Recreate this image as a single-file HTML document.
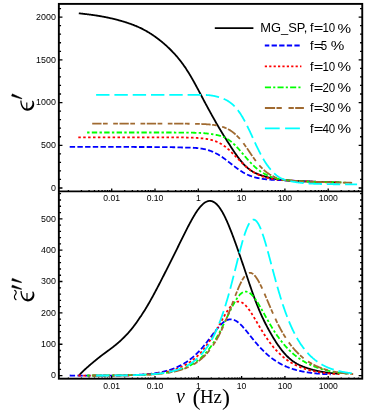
<!DOCTYPE html><html><head><meta charset="utf-8"><style>html,body{margin:0;padding:0;background:#fff}svg{display:block;will-change:transform;transform:translateZ(0)}</style></head><body><svg width="374" height="412" viewBox="0 0 374 412">
<rect width="374" height="412" fill="#fff"/>
<g fill="none" stroke-linecap="butt" stroke-linejoin="round">
<path d="M78.8 13.27 L79.3 13.33 L79.8 13.40 L80.3 13.46 L80.8 13.52 L81.3 13.58 L81.8 13.64 L82.3 13.70 L82.8 13.76 L83.3 13.81 L83.8 13.87 L84.3 13.93 L84.8 13.99 L85.3 14.05 L85.8 14.11 L86.3 14.17 L86.8 14.23 L87.3 14.29 L87.8 14.35 L88.3 14.41 L88.8 14.48 L89.3 14.54 L89.8 14.60 L90.3 14.67 L90.8 14.73 L91.3 14.80 L91.8 14.86 L92.3 14.93 L92.8 15.00 L93.3 15.07 L93.8 15.14 L94.3 15.21 L94.8 15.28 L95.3 15.36 L95.8 15.43 L96.3 15.51 L96.8 15.59 L97.3 15.67 L97.8 15.75 L98.3 15.83 L98.8 15.91 L99.3 16.00 L99.8 16.08 L100.3 16.17 L100.8 16.26 L101.3 16.35 L101.8 16.44 L102.3 16.53 L102.8 16.62 L103.3 16.71 L103.8 16.81 L104.3 16.90 L104.8 17.00 L105.3 17.10 L105.8 17.20 L106.3 17.30 L106.8 17.40 L107.3 17.50 L107.8 17.61 L108.3 17.72 L108.8 17.82 L109.3 17.93 L109.8 18.04 L110.3 18.15 L110.8 18.27 L111.3 18.38 L111.8 18.49 L112.3 18.61 L112.8 18.73 L113.3 18.85 L113.8 18.97 L114.3 19.09 L114.8 19.22 L115.3 19.34 L115.8 19.47 L116.3 19.60 L116.8 19.73 L117.3 19.86 L117.8 19.99 L118.3 20.13 L118.8 20.26 L119.3 20.40 L119.8 20.54 L120.3 20.68 L120.8 20.82 L121.3 20.96 L121.8 21.11 L122.3 21.25 L122.8 21.40 L123.3 21.55 L123.8 21.70 L124.3 21.86 L124.8 22.01 L125.3 22.17 L125.8 22.32 L126.3 22.48 L126.8 22.65 L127.3 22.81 L127.8 22.98 L128.3 23.14 L128.8 23.31 L129.3 23.49 L129.8 23.66 L130.3 23.84 L130.8 24.02 L131.3 24.20 L131.8 24.38 L132.3 24.57 L132.8 24.75 L133.3 24.95 L133.8 25.14 L134.3 25.34 L134.8 25.54 L135.3 25.74 L135.8 25.95 L136.3 26.15 L136.8 26.37 L137.3 26.58 L137.8 26.80 L138.3 27.02 L138.8 27.25 L139.3 27.47 L139.8 27.71 L140.3 27.94 L140.8 28.18 L141.3 28.42 L141.8 28.67 L142.3 28.92 L142.8 29.17 L143.3 29.43 L143.8 29.69 L144.3 29.96 L144.8 30.23 L145.3 30.50 L145.8 30.78 L146.3 31.06 L146.8 31.34 L147.3 31.63 L147.8 31.93 L148.3 32.23 L148.8 32.53 L149.3 32.83 L149.8 33.14 L150.3 33.46 L150.8 33.78 L151.3 34.10 L151.8 34.43 L152.3 34.76 L152.8 35.09 L153.3 35.43 L153.8 35.77 L154.3 36.12 L154.8 36.47 L155.3 36.83 L155.8 37.19 L156.3 37.55 L156.8 37.92 L157.3 38.29 L157.8 38.67 L158.3 39.05 L158.8 39.43 L159.3 39.82 L159.8 40.21 L160.3 40.61 L160.8 41.01 L161.3 41.41 L161.8 41.82 L162.3 42.23 L162.8 42.65 L163.3 43.07 L163.8 43.50 L164.3 43.93 L164.8 44.37 L165.3 44.81 L165.8 45.25 L166.3 45.70 L166.8 46.16 L167.3 46.62 L167.8 47.09 L168.3 47.56 L168.8 48.03 L169.3 48.51 L169.8 49.00 L170.3 49.49 L170.8 49.99 L171.3 50.49 L171.8 51.00 L172.3 51.52 L172.8 52.04 L173.3 52.57 L173.8 53.10 L174.3 53.64 L174.8 54.19 L175.3 54.75 L175.8 55.31 L176.3 55.88 L176.8 56.45 L177.3 57.04 L177.8 57.63 L178.3 58.23 L178.8 58.84 L179.3 59.46 L179.8 60.08 L180.3 60.72 L180.8 61.36 L181.3 62.02 L181.8 62.68 L182.3 63.36 L182.8 64.04 L183.3 64.74 L183.8 65.44 L184.3 66.16 L184.8 66.88 L185.3 67.62 L185.8 68.36 L186.3 69.12 L186.8 69.89 L187.3 70.66 L187.8 71.45 L188.3 72.24 L188.8 73.05 L189.3 73.87 L189.8 74.70 L190.3 75.53 L190.8 76.38 L191.3 77.24 L191.8 78.10 L192.3 78.97 L192.8 79.86 L193.3 80.74 L193.8 81.64 L194.3 82.54 L194.8 83.45 L195.3 84.36 L195.8 85.28 L196.3 86.20 L196.8 87.13 L197.3 88.06 L197.8 88.99 L198.3 89.92 L198.8 90.86 L199.3 91.80 L199.8 92.75 L200.3 93.69 L200.8 94.64 L201.3 95.58 L201.8 96.53 L202.3 97.48 L202.8 98.43 L203.3 99.38 L203.8 100.32 L204.3 101.27 L204.8 102.22 L205.3 103.15 L205.8 104.08 L206.3 105.01 L206.8 105.93 L207.3 106.86 L207.8 107.78 L208.3 108.70 L208.8 109.62 L209.3 110.53 L209.8 111.44 L210.3 112.36 L210.8 113.26 L211.3 114.17 L211.8 115.07 L212.3 115.98 L212.8 116.87 L213.3 117.77 L213.8 118.66 L214.3 119.55 L214.8 120.43 L215.3 121.31 L215.8 122.19 L216.3 123.07 L216.8 123.94 L217.3 124.80 L217.8 125.67 L218.3 126.52 L218.8 127.38 L219.3 128.23 L219.8 129.07 L220.3 129.91 L220.8 130.75 L221.3 131.58 L221.8 132.40 L222.3 133.23 L222.8 134.04 L223.3 134.85 L223.8 135.66 L224.3 136.46 L224.8 137.26 L225.3 138.06 L225.8 138.85 L226.3 139.64 L226.8 140.43 L227.3 141.21 L227.8 142.00 L228.3 142.78 L228.8 143.56 L229.3 144.33 L229.8 145.11 L230.3 145.88 L230.8 146.66 L231.3 147.42 L231.8 148.19 L232.3 148.95 L232.8 149.71 L233.3 150.46 L233.8 151.21 L234.3 151.95 L234.8 152.68 L235.3 153.41 L235.8 154.13 L236.3 154.84 L236.8 155.55 L237.3 156.24 L237.8 156.93 L238.3 157.61 L238.8 158.27 L239.3 158.93 L239.8 159.57 L240.3 160.21 L240.8 160.83 L241.3 161.43 L241.8 162.03 L242.3 162.61 L242.8 163.18 L243.3 163.74 L243.8 164.28 L244.3 164.81 L244.8 165.32 L245.3 165.82 L245.8 166.30 L246.3 166.77 L246.8 167.23 L247.3 167.67 L247.8 168.10 L248.3 168.51 L248.8 168.91 L249.3 169.30 L249.8 169.67 L250.3 170.03 L250.8 170.38 L251.3 170.71 L251.8 171.04 L252.3 171.35 L252.8 171.65 L253.3 171.94 L253.8 172.21 L254.3 172.48 L254.8 172.73 L255.3 172.98 L255.8 173.21 L256.3 173.44 L256.8 173.66 L257.3 173.87 L257.8 174.08 L258.3 174.28 L258.8 174.48 L259.3 174.67 L259.8 174.85 L260.3 175.04 L260.8 175.21 L261.3 175.39 L261.8 175.56 L262.3 175.72 L262.8 175.88 L263.3 176.04 L263.8 176.20 L264.3 176.35 L264.8 176.49 L265.3 176.64 L265.8 176.78 L266.3 176.92 L266.8 177.05 L267.3 177.18 L267.8 177.31 L268.3 177.44 L268.8 177.56 L269.3 177.68 L269.8 177.80 L270.3 177.91 L270.8 178.02 L271.3 178.13 L271.8 178.23 L272.3 178.34 L272.8 178.43 L273.3 178.53 L273.8 178.63 L274.3 178.72 L274.8 178.81 L275.3 178.90 L275.8 178.99 L276.3 179.08 L276.8 179.16 L277.3 179.24 L277.8 179.32 L278.3 179.40 L278.8 179.48 L279.3 179.55 L279.8 179.63 L280.3 179.70 L280.8 179.76 L281.3 179.83 L281.8 179.89 L282.3 179.96 L282.8 180.02 L283.3 180.07 L283.8 180.13 L284.3 180.18 L284.8 180.23 L285.3 180.28 L285.8 180.32 L286.3 180.36 L286.8 180.40 L287.3 180.44 L287.8 180.48 L288.3 180.51 L288.8 180.55 L289.3 180.58 L289.8 180.61 L290.3 180.64 L290.8 180.67 L291.3 180.70 L291.8 180.73 L292.3 180.76 L292.8 180.79 L293.3 180.81 L293.8 180.84 L294.3 180.86 L294.8 180.89 L295.3 180.91 L295.8 180.93 L296.3 180.96 L296.8 180.98 L297.3 181.00 L297.8 181.02 L298.3 181.05 L298.8 181.07 L299.3 181.09 L299.8 181.11 L300.3 181.13 L300.8 181.15 L301.3 181.17 L301.8 181.19 L302.3 181.21 L302.8 181.23 L303.3 181.25 L303.8 181.27 L304.3 181.29 L304.8 181.31 L305.3 181.33 L305.8 181.35 L306.3 181.37 L306.8 181.39 L307.3 181.41 L307.8 181.43 L308.3 181.45 L308.8 181.47 L309.3 181.49 L309.8 181.51 L310.3 181.54 L310.8 181.56 L311.3 181.58 L311.8 181.60 L312.3 181.62 L312.8 181.64 L313.3 181.66 L313.8 181.68 L314.3 181.70 L314.8 181.72 L315.3 181.74 L315.8 181.76 L316.3 181.78 L316.8 181.80 L317.3 181.82 L317.8 181.84 L318.3 181.86 L318.8 181.88 L319.3 181.90 L319.8 181.91 L320.3 181.93 L320.8 181.95 L321.3 181.97 L321.8 181.99 L322.3 182.00 L322.8 182.02 L323.3 182.04 L323.8 182.05 L324.3 182.07 L324.8 182.08 L325.3 182.10 L325.8 182.11 L326.3 182.13 L326.8 182.14 L327.3 182.16 L327.8 182.17 L328.3 182.18 L328.8 182.20 L329.3 182.21 L329.8 182.22 L330.3 182.24 L330.8 182.25 L331.3 182.26 L331.8 182.28 L332.3 182.29 L332.8 182.30 L333.3 182.31 L333.8 182.33 L334.3 182.34 L334.8 182.35 L335.3 182.37 L335.8 182.38 L336.3 182.40 L336.8 182.41 L337.3 182.43 L337.8 182.44 L338.3 182.46 L338.8 182.47 L339.3 182.49" stroke="#000" stroke-width="1.8"/>
<path d="M69.7 146.95 L70.2 146.95 L70.7 146.95 L71.2 146.95 L71.7 146.95 L72.2 146.95 L72.7 146.95 L73.2 146.95 L73.7 146.95 L74.2 146.95 L74.7 146.95 L75.2 146.95 L75.7 146.95 L76.2 146.95 L76.7 146.95 L77.2 146.95 L77.7 146.95 L78.2 146.95 L78.7 146.95 L79.2 146.95 L79.7 146.95 L80.2 146.95 L80.7 146.95 L81.2 146.95 L81.7 146.95 L82.2 146.95 L82.7 146.95 L83.2 146.95 L83.7 146.95 L84.2 146.95 L84.7 146.95 L85.2 146.95 L85.7 146.95 L86.2 146.95 L86.7 146.95 L87.2 146.95 L87.7 146.95 L88.2 146.95 L88.7 146.95 L89.2 146.95 L89.7 146.95 L90.2 146.95 L90.7 146.95 L91.2 146.95 L91.7 146.95 L92.2 146.95 L92.7 146.95 L93.2 146.95 L93.7 146.95 L94.2 146.95 L94.7 146.95 L95.2 146.95 L95.7 146.95 L96.2 146.95 L96.7 146.95 L97.2 146.95 L97.7 146.95 L98.2 146.95 L98.7 146.95 L99.2 146.95 L99.7 146.95 L100.2 146.95 L100.7 146.95 L101.2 146.95 L101.7 146.95 L102.2 146.95 L102.7 146.95 L103.2 146.95 L103.7 146.95 L104.2 146.95 L104.7 146.95 L105.2 146.95 L105.7 146.95 L106.2 146.95 L106.7 146.95 L107.2 146.95 L107.7 146.95 L108.2 146.95 L108.7 146.95 L109.2 146.95 L109.7 146.95 L110.2 146.96 L110.7 146.96 L111.2 146.96 L111.7 146.96 L112.2 146.96 L112.7 146.96 L113.2 146.96 L113.7 146.96 L114.2 146.96 L114.7 146.96 L115.2 146.96 L115.7 146.96 L116.2 146.96 L116.7 146.96 L117.2 146.96 L117.7 146.96 L118.2 146.96 L118.7 146.96 L119.2 146.96 L119.7 146.96 L120.2 146.96 L120.7 146.96 L121.2 146.96 L121.7 146.96 L122.2 146.96 L122.7 146.96 L123.2 146.96 L123.7 146.96 L124.2 146.96 L124.7 146.96 L125.2 146.96 L125.7 146.96 L126.2 146.97 L126.7 146.97 L127.2 146.97 L127.7 146.97 L128.2 146.97 L128.7 146.97 L129.2 146.97 L129.7 146.97 L130.2 146.97 L130.7 146.97 L131.2 146.97 L131.7 146.97 L132.2 146.97 L132.7 146.97 L133.2 146.97 L133.7 146.97 L134.2 146.97 L134.7 146.98 L135.2 146.98 L135.7 146.98 L136.2 146.98 L136.7 146.98 L137.2 146.98 L137.7 146.98 L138.2 146.98 L138.7 146.98 L139.2 146.98 L139.7 146.98 L140.2 146.99 L140.7 146.99 L141.2 146.99 L141.7 146.99 L142.2 146.99 L142.7 146.99 L143.2 146.99 L143.7 146.99 L144.2 146.99 L144.7 147.00 L145.2 147.00 L145.7 147.00 L146.2 147.00 L146.7 147.00 L147.2 147.00 L147.7 147.01 L148.2 147.01 L148.7 147.01 L149.2 147.01 L149.7 147.01 L150.2 147.01 L150.7 147.02 L151.2 147.02 L151.7 147.02 L152.2 147.02 L152.7 147.03 L153.2 147.03 L153.7 147.03 L154.2 147.03 L154.7 147.03 L155.2 147.04 L155.7 147.04 L156.2 147.04 L156.7 147.05 L157.2 147.05 L157.7 147.05 L158.2 147.06 L158.7 147.06 L159.2 147.06 L159.7 147.07 L160.2 147.07 L160.7 147.07 L161.2 147.08 L161.7 147.08 L162.2 147.09 L162.7 147.09 L163.2 147.10 L163.7 147.10 L164.2 147.11 L164.7 147.11 L165.2 147.12 L165.7 147.12 L166.2 147.13 L166.7 147.13 L167.2 147.14 L167.7 147.15 L168.2 147.15 L168.7 147.16 L169.2 147.17 L169.7 147.17 L170.2 147.18 L170.7 147.19 L171.2 147.20 L171.7 147.21 L172.2 147.22 L172.7 147.23 L173.2 147.24 L173.7 147.25 L174.2 147.26 L174.7 147.27 L175.2 147.28 L175.7 147.29 L176.2 147.30 L176.7 147.32 L177.2 147.33 L177.7 147.34 L178.2 147.36 L178.7 147.37 L179.2 147.39 L179.7 147.40 L180.2 147.42 L180.7 147.44 L181.2 147.46 L181.7 147.48 L182.2 147.50 L182.7 147.52 L183.2 147.54 L183.7 147.56 L184.2 147.58 L184.7 147.61 L185.2 147.62 L185.7 147.62 L186.2 147.62 L186.7 147.62 L187.2 147.62 L187.7 147.62 L188.2 147.63 L188.7 147.63 L189.2 147.64 L189.7 147.65 L190.2 147.66 L190.7 147.67 L191.2 147.69 L191.7 147.71 L192.2 147.73 L192.7 147.75 L193.2 147.77 L193.7 147.80 L194.2 147.83 L194.7 147.86 L195.2 147.90 L195.7 147.93 L196.2 147.98 L196.7 148.02 L197.2 148.07 L197.7 148.12 L198.2 148.17 L198.7 148.23 L199.2 148.29 L199.7 148.35 L200.2 148.42 L200.7 148.49 L201.2 148.57 L201.7 148.65 L202.2 148.73 L202.7 148.82 L203.2 148.92 L203.7 149.02 L204.2 149.12 L204.7 149.23 L205.2 149.34 L205.7 149.46 L206.2 149.59 L206.7 149.72 L207.2 149.86 L207.7 150.00 L208.2 150.15 L208.7 150.30 L209.2 150.46 L209.7 150.63 L210.2 150.81 L210.7 150.99 L211.2 151.17 L211.7 151.37 L212.2 151.57 L212.7 151.78 L213.2 151.99 L213.7 152.22 L214.2 152.45 L214.7 152.68 L215.2 152.93 L215.7 153.18 L216.2 153.44 L216.7 153.71 L217.2 153.98 L217.7 154.26 L218.2 154.55 L218.7 154.84 L219.2 155.15 L219.7 155.46 L220.2 155.77 L220.7 156.10 L221.2 156.43 L221.7 156.76 L222.2 157.10 L222.7 157.45 L223.2 157.80 L223.7 158.16 L224.2 158.52 L224.7 158.89 L225.2 159.26 L225.7 159.64 L226.2 160.02 L226.7 160.40 L227.2 160.79 L227.7 161.17 L228.2 161.56 L228.7 161.96 L229.2 162.35 L229.7 162.74 L230.2 163.14 L230.7 163.53 L231.2 163.93 L231.7 164.32 L232.2 164.71 L232.7 165.10 L233.2 165.49 L233.7 165.87 L234.2 166.26 L234.7 166.64 L235.2 167.01 L235.7 167.38 L236.2 167.75 L236.7 168.11 L237.2 168.46 L237.7 168.81 L238.2 169.16 L238.7 169.50 L239.2 169.85 L239.7 170.19 L240.2 170.52 L240.7 170.86 L241.2 171.19 L241.7 171.51 L242.2 171.83 L242.7 172.14 L243.2 172.44 L243.7 172.74 L244.2 173.03 L244.7 173.31 L245.2 173.57 L245.7 173.83 L246.2 174.08 L246.7 174.32 L247.2 174.56 L247.7 174.78 L248.2 175.00 L248.7 175.21 L249.2 175.42 L249.7 175.62 L250.2 175.81 L250.7 175.99 L251.2 176.17 L251.7 176.34 L252.2 176.51 L252.7 176.67 L253.2 176.82 L253.7 176.97 L254.2 177.12 L254.7 177.26 L255.2 177.39 L255.7 177.52 L256.2 177.65 L256.7 177.77 L257.2 177.89 L257.7 178.00 L258.2 178.11 L258.7 178.22 L259.2 178.32 L259.7 178.41 L260.2 178.51 L260.7 178.59 L261.2 178.67 L261.7 178.75 L262.2 178.82 L262.7 178.89 L263.2 178.96 L263.7 179.03 L264.2 179.09 L264.7 179.15 L265.2 179.20 L265.7 179.26 L266.2 179.31 L266.7 179.36 L267.2 179.41 L267.7 179.46 L268.2 179.50 L268.7 179.55 L269.2 179.59 L269.7 179.63 L270.2 179.67 L270.7 179.70 L271.2 179.74 L271.7 179.77 L272.2 179.80 L272.7 179.83 L273.2 179.86 L273.7 179.89 L274.2 179.91 L274.7 179.94 L275.2 179.96 L275.7 179.98 L276.2 180.00 L276.7 180.02 L277.2 180.03 L277.7 180.05 L278.2 180.07 L278.7 180.09 L279.2 180.11 L279.7 180.13 L280.2 180.14 L280.7 180.16 L281.2 180.18 L281.7 180.20 L282.2 180.22 L282.7 180.23 L283.2 180.25 L283.7 180.27 L284.2 180.29 L284.7 180.31 L285.2 180.33 L285.7 180.35 L286.2 180.37 L286.7 180.40 L287.2 180.42 L287.7 180.44 L288.2 180.46 L288.7 180.49 L289.2 180.51 L289.7 180.53 L290.2 180.56 L290.7 180.58 L291.2 180.61 L291.7 180.63 L292.2 180.66 L292.7 180.69 L293.2 180.71 L293.7 180.74 L294.2 180.77 L294.7 180.80 L295.2 180.83 L295.7 180.86 L296.2 180.89 L296.7 180.92 L297.2 180.95 L297.7 180.98 L298.2 181.01 L298.7 181.04 L299.2 181.07 L299.7 181.10 L300.2 181.13 L300.7 181.16 L301.2 181.19 L301.7 181.22 L302.2 181.25 L302.7 181.28 L303.2 181.31 L303.7 181.34 L304.2 181.37 L304.7 181.40 L305.2 181.42 L305.7 181.45 L306.2 181.48 L306.7 181.51 L307.2 181.53 L307.7 181.56 L308.2 181.58 L308.7 181.61 L309.2 181.63 L309.7 181.66 L310.2 181.68 L310.7 181.70 L311.2 181.73 L311.7 181.75 L312.2 181.77 L312.7 181.79 L313.2 181.81 L313.7 181.83 L314.2 181.84 L314.7 181.86 L315.2 181.88 L315.7 181.89 L316.2 181.91 L316.7 181.93 L317.2 181.94 L317.7 181.95 L318.2 181.97 L318.7 181.98 L319.2 181.99 L319.7 182.00 L320.2 182.02 L320.7 182.03 L321.2 182.04 L321.7 182.05 L322.2 182.06 L322.7 182.07 L323.2 182.08 L323.7 182.08 L324.2 182.09 L324.7 182.10 L325.2 182.11 L325.7 182.11 L326.2 182.12 L326.7 182.13 L327.2 182.13 L327.7 182.14 L328.2 182.14 L328.7 182.15 L329.2 182.15 L329.7 182.16 L330.2 182.16 L330.7 182.17" stroke="#0000ff" stroke-width="1.8" stroke-dasharray="5.4 2.3"/>
<path d="M78.3 137.31 L78.8 137.31 L79.3 137.31 L79.8 137.31 L80.3 137.31 L80.8 137.31 L81.3 137.31 L81.8 137.31 L82.3 137.31 L82.8 137.31 L83.3 137.31 L83.8 137.31 L84.3 137.31 L84.8 137.31 L85.3 137.31 L85.8 137.31 L86.3 137.31 L86.8 137.31 L87.3 137.31 L87.8 137.31 L88.3 137.31 L88.8 137.31 L89.3 137.31 L89.8 137.31 L90.3 137.31 L90.8 137.31 L91.3 137.31 L91.8 137.31 L92.3 137.31 L92.8 137.31 L93.3 137.31 L93.8 137.31 L94.3 137.31 L94.8 137.31 L95.3 137.31 L95.8 137.31 L96.3 137.31 L96.8 137.31 L97.3 137.31 L97.8 137.31 L98.3 137.31 L98.8 137.31 L99.3 137.31 L99.8 137.31 L100.3 137.31 L100.8 137.31 L101.3 137.31 L101.8 137.31 L102.3 137.31 L102.8 137.31 L103.3 137.31 L103.8 137.31 L104.3 137.31 L104.8 137.31 L105.3 137.31 L105.8 137.31 L106.3 137.31 L106.8 137.31 L107.3 137.31 L107.8 137.31 L108.3 137.31 L108.8 137.31 L109.3 137.31 L109.8 137.31 L110.3 137.31 L110.8 137.31 L111.3 137.31 L111.8 137.31 L112.3 137.31 L112.8 137.31 L113.3 137.31 L113.8 137.31 L114.3 137.31 L114.8 137.31 L115.3 137.31 L115.8 137.31 L116.3 137.31 L116.8 137.31 L117.3 137.31 L117.8 137.31 L118.3 137.31 L118.8 137.31 L119.3 137.31 L119.8 137.31 L120.3 137.31 L120.8 137.31 L121.3 137.31 L121.8 137.31 L122.3 137.31 L122.8 137.31 L123.3 137.31 L123.8 137.31 L124.3 137.31 L124.8 137.31 L125.3 137.31 L125.8 137.31 L126.3 137.31 L126.8 137.31 L127.3 137.31 L127.8 137.31 L128.3 137.31 L128.8 137.31 L129.3 137.31 L129.8 137.31 L130.3 137.31 L130.8 137.31 L131.3 137.31 L131.8 137.31 L132.3 137.31 L132.8 137.31 L133.3 137.31 L133.8 137.31 L134.3 137.31 L134.8 137.31 L135.3 137.31 L135.8 137.31 L136.3 137.31 L136.8 137.31 L137.3 137.31 L137.8 137.31 L138.3 137.31 L138.8 137.31 L139.3 137.31 L139.8 137.31 L140.3 137.31 L140.8 137.31 L141.3 137.31 L141.8 137.31 L142.3 137.31 L142.8 137.31 L143.3 137.31 L143.8 137.31 L144.3 137.31 L144.8 137.31 L145.3 137.31 L145.8 137.31 L146.3 137.31 L146.8 137.31 L147.3 137.31 L147.8 137.31 L148.3 137.32 L148.8 137.32 L149.3 137.32 L149.8 137.32 L150.3 137.32 L150.8 137.32 L151.3 137.32 L151.8 137.32 L152.3 137.32 L152.8 137.32 L153.3 137.32 L153.8 137.32 L154.3 137.32 L154.8 137.32 L155.3 137.32 L155.8 137.32 L156.3 137.32 L156.8 137.32 L157.3 137.32 L157.8 137.32 L158.3 137.32 L158.8 137.32 L159.3 137.32 L159.8 137.33 L160.3 137.33 L160.8 137.33 L161.3 137.33 L161.8 137.33 L162.3 137.33 L162.8 137.33 L163.3 137.33 L163.8 137.33 L164.3 137.33 L164.8 137.34 L165.3 137.34 L165.8 137.34 L166.3 137.34 L166.8 137.34 L167.3 137.34 L167.8 137.34 L168.3 137.35 L168.8 137.35 L169.3 137.35 L169.8 137.35 L170.3 137.35 L170.8 137.36 L171.3 137.36 L171.8 137.36 L172.3 137.36 L172.8 137.36 L173.3 137.37 L173.8 137.37 L174.3 137.37 L174.8 137.38 L175.3 137.38 L175.8 137.38 L176.3 137.39 L176.8 137.39 L177.3 137.40 L177.8 137.40 L178.3 137.40 L178.8 137.41 L179.3 137.41 L179.8 137.42 L180.3 137.43 L180.8 137.43 L181.3 137.44 L181.8 137.44 L182.3 137.45 L182.8 137.46 L183.3 137.47 L183.8 137.47 L184.3 137.48 L184.8 137.49 L185.3 137.50 L185.8 137.51 L186.3 137.52 L186.8 137.53 L187.3 137.54 L187.8 137.56 L188.3 137.57 L188.8 137.58 L189.3 137.60 L189.8 137.61 L190.3 137.63 L190.8 137.64 L191.3 137.66 L191.8 137.68 L192.3 137.70 L192.8 137.72 L193.3 137.74 L193.8 137.76 L194.3 137.79 L194.8 137.81 L195.3 137.84 L195.8 137.87 L196.3 137.90 L196.8 137.93 L197.3 137.96 L197.8 137.99 L198.3 138.03 L198.8 138.06 L199.3 138.10 L199.8 138.15 L200.3 138.19 L200.8 138.23 L201.3 138.28 L201.8 138.33 L202.3 138.39 L202.8 138.44 L203.3 138.50 L203.8 138.56 L204.3 138.63 L204.8 138.69 L205.3 138.77 L205.8 138.84 L206.3 138.92 L206.8 139.00 L207.3 139.09 L207.8 139.18 L208.3 139.27 L208.8 139.37 L209.3 139.48 L209.8 139.59 L210.3 139.70 L210.8 139.83 L211.3 139.95 L211.8 140.08 L212.3 140.22 L212.8 140.37 L213.3 140.52 L213.8 140.68 L214.3 140.84 L214.8 141.02 L215.3 141.20 L215.8 141.38 L216.3 141.58 L216.8 141.79 L217.3 142.00 L217.8 142.22 L218.3 142.45 L218.8 142.69 L219.3 142.94 L219.8 143.20 L220.3 143.47 L220.8 143.75 L221.3 144.05 L221.8 144.35 L222.3 144.66 L222.8 144.98 L223.3 145.32 L223.8 145.66 L224.3 146.02 L224.8 146.38 L225.3 146.76 L225.8 147.15 L226.3 147.55 L226.8 147.96 L227.3 148.38 L227.8 148.81 L228.3 149.25 L228.8 149.71 L229.3 150.17 L229.8 150.64 L230.3 151.12 L230.8 151.61 L231.3 152.10 L231.8 152.61 L232.3 153.09 L232.8 153.57 L233.3 154.05 L233.8 154.54 L234.3 155.03 L234.8 155.52 L235.3 156.03 L235.8 156.53 L236.3 157.04 L236.8 157.55 L237.3 158.06 L237.8 158.58 L238.3 159.09 L238.8 159.60 L239.3 160.12 L239.8 160.63 L240.3 161.14 L240.8 161.64 L241.3 162.15 L241.8 162.65 L242.3 163.14 L242.8 163.63 L243.3 164.12 L243.8 164.60 L244.3 165.07 L244.8 165.54 L245.3 166.00 L245.8 166.45 L246.3 166.89 L246.8 167.33 L247.3 167.75 L247.8 168.16 L248.3 168.57 L248.8 168.96 L249.3 169.34 L249.8 169.71 L250.3 170.08 L250.8 170.43 L251.3 170.77 L251.8 171.10 L252.3 171.42 L252.8 171.74 L253.3 172.04 L253.8 172.33 L254.3 172.62 L254.8 172.89 L255.3 173.16 L255.8 173.42 L256.3 173.68 L256.8 173.94 L257.3 174.19 L257.8 174.43 L258.3 174.67 L258.8 174.90 L259.3 175.13 L259.8 175.35 L260.3 175.57 L260.8 175.78 L261.3 175.98 L261.8 176.18 L262.3 176.37 L262.8 176.55 L263.3 176.73 L263.8 176.89 L264.3 177.05 L264.8 177.20 L265.3 177.34 L265.8 177.48 L266.3 177.61 L266.8 177.74 L267.3 177.86 L267.8 177.98 L268.3 178.09 L268.8 178.20 L269.3 178.31 L269.8 178.41 L270.3 178.51 L270.8 178.61 L271.3 178.70 L271.8 178.79 L272.3 178.87 L272.8 178.95 L273.3 179.03 L273.8 179.11 L274.3 179.18 L274.8 179.25 L275.3 179.32 L275.8 179.39 L276.3 179.45 L276.8 179.51 L277.3 179.57 L277.8 179.63 L278.3 179.68 L278.8 179.72 L279.3 179.76 L279.8 179.80 L280.3 179.84 L280.8 179.88 L281.3 179.92 L281.8 179.96 L282.3 179.99 L282.8 180.03 L283.3 180.06 L283.8 180.09 L284.3 180.13 L284.8 180.16 L285.3 180.19 L285.8 180.22 L286.3 180.25 L286.8 180.28 L287.3 180.31 L287.8 180.34 L288.3 180.37 L288.8 180.40 L289.3 180.42 L289.8 180.45 L290.3 180.48 L290.8 180.51 L291.3 180.54 L291.8 180.57 L292.3 180.59 L292.8 180.62 L293.3 180.65 L293.8 180.68 L294.3 180.71 L294.8 180.73 L295.3 180.76 L295.8 180.79 L296.3 180.82 L296.8 180.85 L297.3 180.88 L297.8 180.91 L298.3 180.94 L298.8 180.96 L299.3 180.99 L299.8 181.02 L300.3 181.05 L300.8 181.08 L301.3 181.11 L301.8 181.14 L302.3 181.17 L302.8 181.20 L303.3 181.23 L303.8 181.26 L304.3 181.29 L304.8 181.32 L305.3 181.35 L305.8 181.38 L306.3 181.41 L306.8 181.44 L307.3 181.47 L307.8 181.50 L308.3 181.53 L308.8 181.56 L309.3 181.58 L309.8 181.61 L310.3 181.64 L310.8 181.67 L311.3 181.69 L311.8 181.72 L312.3 181.74 L312.8 181.77 L313.3 181.79 L313.8 181.82 L314.3 181.84 L314.8 181.86 L315.3 181.89 L315.8 181.91 L316.3 181.93 L316.8 181.95 L317.3 181.97 L317.8 181.99 L318.3 182.01 L318.8 182.03 L319.3 182.05 L319.8 182.06 L320.3 182.08 L320.8 182.10 L321.3 182.11 L321.8 182.13 L322.3 182.14 L322.8 182.15 L323.3 182.17 L323.8 182.18 L324.3 182.19 L324.8 182.21 L325.3 182.22 L325.8 182.23 L326.3 182.24 L326.8 182.25 L327.3 182.26 L327.8 182.27 L328.3 182.28 L328.8 182.29 L329.3 182.30 L329.8 182.30 L330.3 182.31 L330.8 182.32 L331.3 182.33 L331.8 182.33 L332.3 182.34 L332.8 182.34 L333.3 182.35 L333.8 182.36 L334.3 182.36 L334.8 182.37 L335.3 182.37 L335.8 182.38 L336.3 182.38 L336.8 182.39 L337.3 182.39 L337.8 182.39 L338.3 182.40 L338.8 182.40 L339.3 182.40" stroke="#ff0000" stroke-width="1.8" stroke-dasharray="2.5 2.4"/>
<path d="M87.1 132.49 L87.6 132.49 L88.1 132.49 L88.6 132.49 L89.1 132.49 L89.6 132.49 L90.1 132.49 L90.6 132.49 L91.1 132.49 L91.6 132.49 L92.1 132.49 L92.6 132.49 L93.1 132.49 L93.6 132.49 L94.1 132.49 L94.6 132.49 L95.1 132.49 L95.6 132.49 L96.1 132.49 L96.6 132.49 L97.1 132.49 L97.6 132.49 L98.1 132.49 L98.6 132.49 L99.1 132.49 L99.6 132.49 L100.1 132.49 L100.6 132.49 L101.1 132.49 L101.6 132.49 L102.1 132.49 L102.6 132.49 L103.1 132.49 L103.6 132.49 L104.1 132.49 L104.6 132.49 L105.1 132.49 L105.6 132.49 L106.1 132.49 L106.6 132.49 L107.1 132.49 L107.6 132.49 L108.1 132.49 L108.6 132.49 L109.1 132.49 L109.6 132.49 L110.1 132.49 L110.6 132.49 L111.1 132.49 L111.6 132.49 L112.1 132.49 L112.6 132.49 L113.1 132.49 L113.6 132.49 L114.1 132.49 L114.6 132.49 L115.1 132.49 L115.6 132.49 L116.1 132.49 L116.6 132.49 L117.1 132.49 L117.6 132.49 L118.1 132.49 L118.6 132.49 L119.1 132.49 L119.6 132.49 L120.1 132.49 L120.6 132.49 L121.1 132.49 L121.6 132.49 L122.1 132.49 L122.6 132.49 L123.1 132.49 L123.6 132.49 L124.1 132.49 L124.6 132.49 L125.1 132.49 L125.6 132.49 L126.1 132.49 L126.6 132.49 L127.1 132.49 L127.6 132.49 L128.1 132.49 L128.6 132.49 L129.1 132.49 L129.6 132.49 L130.1 132.49 L130.6 132.49 L131.1 132.49 L131.6 132.49 L132.1 132.49 L132.6 132.49 L133.1 132.49 L133.6 132.49 L134.1 132.49 L134.6 132.49 L135.1 132.49 L135.6 132.49 L136.1 132.49 L136.6 132.49 L137.1 132.49 L137.6 132.49 L138.1 132.49 L138.6 132.49 L139.1 132.49 L139.6 132.49 L140.1 132.49 L140.6 132.49 L141.1 132.49 L141.6 132.49 L142.1 132.49 L142.6 132.49 L143.1 132.49 L143.6 132.49 L144.1 132.49 L144.6 132.49 L145.1 132.49 L145.6 132.49 L146.1 132.49 L146.6 132.49 L147.1 132.49 L147.6 132.49 L148.1 132.49 L148.6 132.49 L149.1 132.49 L149.6 132.49 L150.1 132.49 L150.6 132.49 L151.1 132.49 L151.6 132.49 L152.1 132.49 L152.6 132.49 L153.1 132.49 L153.6 132.50 L154.1 132.50 L154.6 132.50 L155.1 132.50 L155.6 132.50 L156.1 132.50 L156.6 132.50 L157.1 132.50 L157.6 132.50 L158.1 132.50 L158.6 132.50 L159.1 132.50 L159.6 132.50 L160.1 132.50 L160.6 132.50 L161.1 132.50 L161.6 132.50 L162.1 132.50 L162.6 132.50 L163.1 132.50 L163.6 132.50 L164.1 132.50 L164.6 132.50 L165.1 132.50 L165.6 132.50 L166.1 132.50 L166.6 132.51 L167.1 132.51 L167.6 132.51 L168.1 132.51 L168.6 132.51 L169.1 132.51 L169.6 132.51 L170.1 132.51 L170.6 132.51 L171.1 132.51 L171.6 132.52 L172.1 132.52 L172.6 132.52 L173.1 132.52 L173.6 132.52 L174.1 132.52 L174.6 132.52 L175.1 132.53 L175.6 132.53 L176.1 132.53 L176.6 132.53 L177.1 132.53 L177.6 132.54 L178.1 132.54 L178.6 132.54 L179.1 132.54 L179.6 132.55 L180.1 132.55 L180.6 132.55 L181.1 132.56 L181.6 132.56 L182.1 132.56 L182.6 132.57 L183.1 132.57 L183.6 132.58 L184.1 132.58 L184.6 132.58 L185.1 132.59 L185.6 132.60 L186.1 132.60 L186.6 132.61 L187.1 132.61 L187.6 132.62 L188.1 132.63 L188.6 132.63 L189.1 132.64 L189.6 132.65 L190.1 132.66 L190.6 132.67 L191.1 132.68 L191.6 132.69 L192.1 132.70 L192.6 132.71 L193.1 132.72 L193.6 132.73 L194.1 132.75 L194.6 132.76 L195.1 132.78 L195.6 132.79 L196.1 132.81 L196.6 132.82 L197.1 132.84 L197.6 132.86 L198.1 132.88 L198.6 132.90 L199.1 132.92 L199.6 132.95 L200.1 132.97 L200.6 133.00 L201.1 133.03 L201.6 133.05 L202.1 133.08 L202.6 133.12 L203.1 133.15 L203.6 133.18 L204.1 133.22 L204.6 133.26 L205.1 133.30 L205.6 133.35 L206.1 133.39 L206.6 133.44 L207.1 133.49 L207.6 133.54 L208.1 133.60 L208.6 133.66 L209.1 133.72 L209.6 133.79 L210.1 133.85 L210.6 133.93 L211.1 134.00 L211.6 134.08 L212.1 134.16 L212.6 134.25 L213.1 134.34 L213.6 134.44 L214.1 134.54 L214.6 134.65 L215.1 134.75 L215.6 134.83 L216.1 134.91 L216.6 135.00 L217.1 135.09 L217.6 135.20 L218.1 135.31 L218.6 135.42 L219.1 135.55 L219.6 135.68 L220.1 135.82 L220.6 135.97 L221.1 136.13 L221.6 136.30 L222.1 136.48 L222.6 136.66 L223.1 136.86 L223.6 137.07 L224.1 137.29 L224.6 137.52 L225.1 137.76 L225.6 138.01 L226.1 138.28 L226.6 138.56 L227.1 138.85 L227.6 139.15 L228.1 139.47 L228.6 139.79 L229.1 140.13 L229.6 140.49 L230.1 140.86 L230.6 141.24 L231.1 141.63 L231.6 142.04 L232.1 142.46 L232.6 142.90 L233.1 143.35 L233.6 143.81 L234.1 144.28 L234.6 144.76 L235.1 145.25 L235.6 145.75 L236.1 146.27 L236.6 146.79 L237.1 147.32 L237.6 147.86 L238.1 148.41 L238.6 148.96 L239.1 149.52 L239.6 150.09 L240.1 150.66 L240.6 151.24 L241.1 151.82 L241.6 152.40 L242.1 152.99 L242.6 153.58 L243.1 154.17 L243.6 154.76 L244.1 155.35 L244.6 155.94 L245.1 156.53 L245.6 157.11 L246.1 157.70 L246.6 158.27 L247.1 158.85 L247.6 159.42 L248.1 159.98 L248.6 160.54 L249.1 161.09 L249.6 161.63 L250.1 162.17 L250.6 162.70 L251.1 163.23 L251.6 163.74 L252.1 164.25 L252.6 164.74 L253.1 165.23 L253.6 165.71 L254.1 166.18 L254.6 166.64 L255.1 167.09 L255.6 167.53 L256.1 167.96 L256.6 168.38 L257.1 168.80 L257.6 169.20 L258.1 169.59 L258.6 169.97 L259.1 170.34 L259.6 170.71 L260.1 171.06 L260.6 171.41 L261.1 171.74 L261.6 172.07 L262.1 172.39 L262.6 172.70 L263.1 173.00 L263.6 173.30 L264.1 173.59 L264.6 173.86 L265.1 174.14 L265.6 174.40 L266.1 174.66 L266.6 174.91 L267.1 175.15 L267.6 175.39 L268.1 175.62 L268.6 175.85 L269.1 176.07 L269.6 176.28 L270.1 176.49 L270.6 176.69 L271.1 176.88 L271.6 177.08 L272.1 177.26 L272.6 177.41 L273.1 177.56 L273.6 177.70 L274.1 177.84 L274.6 177.98 L275.1 178.11 L275.6 178.23 L276.1 178.35 L276.6 178.47 L277.1 178.59 L277.6 178.70 L278.1 178.80 L278.6 178.91 L279.1 179.01 L279.6 179.10 L280.1 179.20 L280.6 179.29 L281.1 179.38 L281.6 179.46 L282.1 179.54 L282.6 179.62 L283.1 179.70 L283.6 179.77 L284.1 179.85 L284.6 179.92 L285.1 179.99 L285.6 180.05 L286.1 180.11 L286.6 180.18 L287.1 180.24 L287.6 180.30 L288.1 180.35 L288.6 180.41 L289.1 180.46 L289.6 180.51 L290.1 180.56 L290.6 180.61 L291.1 180.66 L291.6 180.70 L292.1 180.75 L292.6 180.79 L293.1 180.83 L293.6 180.87 L294.1 180.91 L294.6 180.95 L295.1 180.99 L295.6 181.02 L296.1 181.06 L296.6 181.09 L297.1 181.13 L297.6 181.16 L298.1 181.19 L298.6 181.22 L299.1 181.25 L299.6 181.28 L300.1 181.31 L300.6 181.33 L301.1 181.36 L301.6 181.39 L302.1 181.41 L302.6 181.44 L303.1 181.46 L303.6 181.48 L304.1 181.51 L304.6 181.53 L305.1 181.55 L305.6 181.57 L306.1 181.59 L306.6 181.61 L307.1 181.63 L307.6 181.65 L308.1 181.67 L308.6 181.68 L309.1 181.70 L309.6 181.72 L310.1 181.74 L310.6 181.75 L311.1 181.77 L311.6 181.78 L312.1 181.80 L312.6 181.81 L313.1 181.83 L313.6 181.84 L314.1 181.86 L314.6 181.87 L315.1 181.88 L315.6 181.90 L316.1 181.91 L316.6 181.92 L317.1 181.93 L317.6 181.95 L318.1 181.96 L318.6 181.97 L319.1 181.98 L319.6 181.99 L320.1 182.00 L320.6 182.01 L321.1 182.02 L321.6 182.04 L322.1 182.05 L322.6 182.06 L323.1 182.07 L323.6 182.08 L324.1 182.09 L324.6 182.10 L325.1 182.10 L325.6 182.11 L326.1 182.12 L326.6 182.13 L327.1 182.14 L327.6 182.15 L328.1 182.16 L328.6 182.17 L329.1 182.18 L329.6 182.19 L330.1 182.20 L330.6 182.21 L331.1 182.22 L331.6 182.23 L332.1 182.24 L332.6 182.25 L333.1 182.26 L333.6 182.27 L334.1 182.28 L334.6 182.29 L335.1 182.30 L335.6 182.31 L336.1 182.32 L336.6 182.33 L337.1 182.34 L337.6 182.35 L338.1 182.36 L338.6 182.38 L339.1 182.39 L339.6 182.40 L340.1 182.41 L340.6 182.43 L341.1 182.44 L341.6 182.46 L342.1 182.47 L342.6 182.49 L343.1 182.50 L343.6 182.52 L344.1 182.54 L344.6 182.55 L345.1 182.57 L345.6 182.59 L346.1 182.61 L346.6 182.63 L347.1 182.66 L347.6 182.68" stroke="#00ff00" stroke-width="1.8" stroke-dasharray="2.4 2.3 5.4 2.3"/>
<path d="M92.2 123.64 L92.7 123.64 L93.2 123.64 L93.7 123.64 L94.2 123.64 L94.7 123.64 L95.2 123.64 L95.7 123.64 L96.2 123.64 L96.7 123.64 L97.2 123.64 L97.7 123.64 L98.2 123.64 L98.7 123.64 L99.2 123.64 L99.7 123.64 L100.2 123.64 L100.7 123.64 L101.2 123.64 L101.7 123.64 L102.2 123.64 L102.7 123.64 L103.2 123.64 L103.7 123.64 L104.2 123.64 L104.7 123.64 L105.2 123.64 L105.7 123.64 L106.2 123.64 L106.7 123.64 L107.2 123.64 L107.7 123.64 L108.2 123.64 L108.7 123.64 L109.2 123.64 L109.7 123.64 L110.2 123.64 L110.7 123.64 L111.2 123.64 L111.7 123.64 L112.2 123.64 L112.7 123.64 L113.2 123.64 L113.7 123.64 L114.2 123.64 L114.7 123.64 L115.2 123.64 L115.7 123.64 L116.2 123.64 L116.7 123.64 L117.2 123.64 L117.7 123.64 L118.2 123.64 L118.7 123.64 L119.2 123.64 L119.7 123.64 L120.2 123.64 L120.7 123.64 L121.2 123.64 L121.7 123.64 L122.2 123.64 L122.7 123.64 L123.2 123.64 L123.7 123.64 L124.2 123.64 L124.7 123.64 L125.2 123.64 L125.7 123.64 L126.2 123.64 L126.7 123.64 L127.2 123.64 L127.7 123.64 L128.2 123.64 L128.7 123.64 L129.2 123.64 L129.7 123.64 L130.2 123.64 L130.7 123.64 L131.2 123.64 L131.7 123.64 L132.2 123.64 L132.7 123.64 L133.2 123.64 L133.7 123.64 L134.2 123.64 L134.7 123.64 L135.2 123.64 L135.7 123.64 L136.2 123.64 L136.7 123.64 L137.2 123.64 L137.7 123.64 L138.2 123.64 L138.7 123.64 L139.2 123.64 L139.7 123.64 L140.2 123.64 L140.7 123.64 L141.2 123.64 L141.7 123.64 L142.2 123.64 L142.7 123.64 L143.2 123.64 L143.7 123.64 L144.2 123.64 L144.7 123.64 L145.2 123.64 L145.7 123.64 L146.2 123.64 L146.7 123.64 L147.2 123.64 L147.7 123.64 L148.2 123.64 L148.7 123.64 L149.2 123.64 L149.7 123.64 L150.2 123.64 L150.7 123.64 L151.2 123.64 L151.7 123.64 L152.2 123.64 L152.7 123.64 L153.2 123.64 L153.7 123.64 L154.2 123.64 L154.7 123.64 L155.2 123.64 L155.7 123.64 L156.2 123.64 L156.7 123.64 L157.2 123.64 L157.7 123.64 L158.2 123.64 L158.7 123.64 L159.2 123.64 L159.7 123.64 L160.2 123.64 L160.7 123.64 L161.2 123.64 L161.7 123.64 L162.2 123.64 L162.7 123.64 L163.2 123.65 L163.7 123.65 L164.2 123.65 L164.7 123.65 L165.2 123.65 L165.7 123.65 L166.2 123.65 L166.7 123.65 L167.2 123.65 L167.7 123.65 L168.2 123.65 L168.7 123.65 L169.2 123.65 L169.7 123.65 L170.2 123.65 L170.7 123.65 L171.2 123.65 L171.7 123.66 L172.2 123.66 L172.7 123.66 L173.2 123.66 L173.7 123.66 L174.2 123.66 L174.7 123.66 L175.2 123.66 L175.7 123.66 L176.2 123.67 L176.7 123.67 L177.2 123.67 L177.7 123.67 L178.2 123.67 L178.7 123.67 L179.2 123.68 L179.7 123.68 L180.2 123.68 L180.7 123.68 L181.2 123.68 L181.7 123.69 L182.2 123.69 L182.7 123.69 L183.2 123.70 L183.7 123.70 L184.2 123.70 L184.7 123.70 L185.2 123.71 L185.7 123.71 L186.2 123.72 L186.7 123.72 L187.2 123.72 L187.7 123.73 L188.2 123.73 L188.7 123.74 L189.2 123.74 L189.7 123.75 L190.2 123.75 L190.7 123.76 L191.2 123.77 L191.7 123.77 L192.2 123.78 L192.7 123.79 L193.2 123.80 L193.7 123.81 L194.2 123.81 L194.7 123.82 L195.2 123.83 L195.7 123.84 L196.2 123.85 L196.7 123.87 L197.2 123.88 L197.7 123.89 L198.2 123.90 L198.7 123.92 L199.2 123.93 L199.7 123.95 L200.2 123.97 L200.7 123.98 L201.2 124.00 L201.7 124.02 L202.2 124.04 L202.7 124.06 L203.2 124.09 L203.7 124.11 L204.2 124.13 L204.7 124.16 L205.2 124.19 L205.7 124.22 L206.2 124.25 L206.7 124.28 L207.2 124.31 L207.7 124.35 L208.2 124.39 L208.7 124.43 L209.2 124.47 L209.7 124.51 L210.2 124.56 L210.7 124.61 L211.2 124.66 L211.7 124.71 L212.2 124.77 L212.7 124.83 L213.2 124.89 L213.7 124.96 L214.2 125.03 L214.7 125.10 L215.2 125.18 L215.7 125.26 L216.2 125.34 L216.7 125.43 L217.2 125.52 L217.7 125.62 L218.2 125.73 L218.7 125.83 L219.2 125.95 L219.7 126.07 L220.2 126.19 L220.7 126.32 L221.2 126.46 L221.7 126.61 L222.2 126.76 L222.7 126.92 L223.2 127.08 L223.7 127.26 L224.2 127.44 L224.7 127.63 L225.2 127.83 L225.7 128.04 L226.2 128.26 L226.7 128.48 L227.2 128.72 L227.7 128.97 L228.2 129.23 L228.7 129.50 L229.2 129.78 L229.7 130.08 L230.2 130.38 L230.7 130.70 L231.2 131.03 L231.7 131.38 L232.2 131.74 L232.7 132.11 L233.2 132.49 L233.7 132.89 L234.2 133.31 L234.7 133.74 L235.2 134.17 L235.7 134.61 L236.2 135.07 L236.7 135.54 L237.2 136.03 L237.7 136.53 L238.2 137.04 L238.7 137.57 L239.2 138.12 L239.7 138.68 L240.2 139.26 L240.7 139.85 L241.2 140.45 L241.7 141.07 L242.2 141.70 L242.7 142.34 L243.2 142.99 L243.7 143.66 L244.2 144.34 L244.7 145.02 L245.2 145.72 L245.7 146.43 L246.2 147.14 L246.7 147.86 L247.2 148.59 L247.7 149.32 L248.2 150.05 L248.7 150.79 L249.2 151.53 L249.7 152.27 L250.2 153.01 L250.7 153.75 L251.2 154.48 L251.7 155.21 L252.2 155.94 L252.7 156.66 L253.2 157.37 L253.7 158.08 L254.2 158.78 L254.7 159.47 L255.2 160.15 L255.7 160.82 L256.2 161.48 L256.7 162.13 L257.2 162.77 L257.7 163.39 L258.2 164.00 L258.7 164.60 L259.2 165.19 L259.7 165.76 L260.2 166.32 L260.7 166.86 L261.2 167.39 L261.7 167.91 L262.2 168.41 L262.7 168.90 L263.2 169.37 L263.7 169.84 L264.2 170.29 L264.7 170.72 L265.2 171.15 L265.7 171.56 L266.2 171.96 L266.7 172.35 L267.2 172.73 L267.7 173.09 L268.2 173.44 L268.7 173.79 L269.2 174.12 L269.7 174.44 L270.2 174.74 L270.7 175.04 L271.2 175.33 L271.7 175.61 L272.2 175.88 L272.7 176.14 L273.2 176.39 L273.7 176.63 L274.2 176.86 L274.7 177.09 L275.2 177.30 L275.7 177.49 L276.2 177.67 L276.7 177.85 L277.2 178.02 L277.7 178.18 L278.2 178.34 L278.7 178.48 L279.2 178.63 L279.7 178.77 L280.2 178.90 L280.7 179.03 L281.2 179.15 L281.7 179.26 L282.2 179.38 L282.7 179.48 L283.2 179.59 L283.7 179.68 L284.2 179.78 L284.7 179.87 L285.2 179.96 L285.7 180.04 L286.2 180.12 L286.7 180.20 L287.2 180.27 L287.7 180.34 L288.2 180.41 L288.7 180.48 L289.2 180.54 L289.7 180.60 L290.2 180.66 L290.7 180.71 L291.2 180.77 L291.7 180.82 L292.2 180.87 L292.7 180.91 L293.2 180.96 L293.7 181.00 L294.2 181.04 L294.7 181.08 L295.2 181.12 L295.7 181.16 L296.2 181.20 L296.7 181.23 L297.2 181.26 L297.7 181.30 L298.2 181.33 L298.7 181.36 L299.2 181.38 L299.7 181.41 L300.2 181.44 L300.7 181.46 L301.2 181.49 L301.7 181.51 L302.2 181.53 L302.7 181.56 L303.2 181.58 L303.7 181.60 L304.2 181.62 L304.7 181.64 L305.2 181.66 L305.7 181.67 L306.2 181.69 L306.7 181.71 L307.2 181.72 L307.7 181.74 L308.2 181.75 L308.7 181.77 L309.2 181.78 L309.7 181.80 L310.2 181.81 L310.7 181.82 L311.2 181.84 L311.7 181.85 L312.2 181.86 L312.7 181.87 L313.2 181.89 L313.7 181.90 L314.2 181.91 L314.7 181.92 L315.2 181.93 L315.7 181.94 L316.2 181.95 L316.7 181.96 L317.2 181.97 L317.7 181.98 L318.2 181.99 L318.7 182.00 L319.2 182.01 L319.7 182.02 L320.2 182.03 L320.7 182.04 L321.2 182.05 L321.7 182.06 L322.2 182.07 L322.7 182.08 L323.2 182.09 L323.7 182.10 L324.2 182.11 L324.7 182.11 L325.2 182.12 L325.7 182.13 L326.2 182.14 L326.7 182.15 L327.2 182.16 L327.7 182.17 L328.2 182.18 L328.7 182.19 L329.2 182.20 L329.7 182.21 L330.2 182.23 L330.7 182.24 L331.2 182.25 L331.7 182.26 L332.2 182.27 L332.7 182.28 L333.2 182.29 L333.7 182.30 L334.2 182.32 L334.7 182.33 L335.2 182.34 L335.7 182.35 L336.2 182.37 L336.7 182.38 L337.2 182.39 L337.7 182.40 L338.2 182.42 L338.7 182.43 L339.2 182.44 L339.7 182.46 L340.2 182.47 L340.7 182.49 L341.2 182.50 L341.7 182.51 L342.2 182.53 L342.7 182.54 L343.2 182.55 L343.7 182.57 L344.2 182.58 L344.7 182.60 L345.2 182.61 L345.7 182.62 L346.2 182.64 L346.7 182.65 L347.2 182.66 L347.7 182.68 L348.2 182.69 L348.7 182.70 L349.2 182.72 L349.7 182.73 L350.2 182.74 L350.7 182.75 L351.2 182.76 L351.7 182.78 L352.2 182.79 L352.7 182.80 L353.2 182.81" stroke="#a06a30" stroke-width="1.8" stroke-dasharray="9.3 1.5 4.7 5.5 4.7 1.6"/>
<path d="M96.1 94.79 L96.6 94.79 L97.1 94.79 L97.6 94.79 L98.1 94.79 L98.6 94.79 L99.1 94.79 L99.6 94.79 L100.1 94.79 L100.6 94.79 L101.1 94.79 L101.6 94.79 L102.1 94.79 L102.6 94.79 L103.1 94.79 L103.6 94.79 L104.1 94.79 L104.6 94.79 L105.1 94.79 L105.6 94.79 L106.1 94.79 L106.6 94.79 L107.1 94.79 L107.6 94.79 L108.1 94.79 L108.6 94.79 L109.1 94.79 L109.6 94.79 L110.1 94.79 L110.6 94.79 L111.1 94.79 L111.6 94.79 L112.1 94.79 L112.6 94.79 L113.1 94.79 L113.6 94.79 L114.1 94.79 L114.6 94.79 L115.1 94.79 L115.6 94.79 L116.1 94.79 L116.6 94.79 L117.1 94.79 L117.6 94.79 L118.1 94.79 L118.6 94.79 L119.1 94.79 L119.6 94.79 L120.1 94.79 L120.6 94.79 L121.1 94.79 L121.6 94.79 L122.1 94.79 L122.6 94.79 L123.1 94.79 L123.6 94.79 L124.1 94.79 L124.6 94.79 L125.1 94.79 L125.6 94.79 L126.1 94.79 L126.6 94.79 L127.1 94.79 L127.6 94.79 L128.1 94.79 L128.6 94.79 L129.1 94.79 L129.6 94.79 L130.1 94.79 L130.6 94.79 L131.1 94.79 L131.6 94.79 L132.1 94.79 L132.6 94.79 L133.1 94.79 L133.6 94.79 L134.1 94.79 L134.6 94.78 L135.1 94.78 L135.6 94.78 L136.1 94.78 L136.6 94.78 L137.1 94.78 L137.6 94.78 L138.1 94.78 L138.6 94.78 L139.1 94.78 L139.6 94.78 L140.1 94.78 L140.6 94.78 L141.1 94.78 L141.6 94.78 L142.1 94.78 L142.6 94.78 L143.1 94.78 L143.6 94.78 L144.1 94.78 L144.6 94.78 L145.1 94.78 L145.6 94.78 L146.1 94.78 L146.6 94.78 L147.1 94.78 L147.6 94.78 L148.1 94.78 L148.6 94.78 L149.1 94.78 L149.6 94.78 L150.1 94.78 L150.6 94.79 L151.1 94.79 L151.6 94.79 L152.1 94.79 L152.6 94.79 L153.1 94.79 L153.6 94.79 L154.1 94.79 L154.6 94.79 L155.1 94.79 L155.6 94.79 L156.1 94.79 L156.6 94.79 L157.1 94.79 L157.6 94.79 L158.1 94.79 L158.6 94.79 L159.1 94.79 L159.6 94.79 L160.1 94.79 L160.6 94.79 L161.1 94.79 L161.6 94.79 L162.1 94.79 L162.6 94.79 L163.1 94.79 L163.6 94.79 L164.1 94.79 L164.6 94.79 L165.1 94.79 L165.6 94.79 L166.1 94.80 L166.6 94.80 L167.1 94.80 L167.6 94.80 L168.1 94.80 L168.6 94.80 L169.1 94.80 L169.6 94.80 L170.1 94.80 L170.6 94.80 L171.1 94.81 L171.6 94.81 L172.1 94.81 L172.6 94.81 L173.1 94.81 L173.6 94.81 L174.1 94.81 L174.6 94.82 L175.1 94.82 L175.6 94.82 L176.1 94.82 L176.6 94.82 L177.1 94.83 L177.6 94.83 L178.1 94.83 L178.6 94.83 L179.1 94.84 L179.6 94.84 L180.1 94.84 L180.6 94.85 L181.1 94.85 L181.6 94.85 L182.1 94.86 L182.6 94.86 L183.1 94.86 L183.6 94.87 L184.1 94.87 L184.6 94.88 L185.1 94.88 L185.6 94.89 L186.1 94.89 L186.6 94.89 L187.1 94.90 L187.6 94.90 L188.1 94.90 L188.6 94.90 L189.1 94.90 L189.6 94.89 L190.1 94.89 L190.6 94.89 L191.1 94.89 L191.6 94.89 L192.1 94.88 L192.6 94.88 L193.1 94.88 L193.6 94.88 L194.1 94.88 L194.6 94.87 L195.1 94.87 L195.6 94.87 L196.1 94.87 L196.6 94.87 L197.1 94.87 L197.6 94.87 L198.1 94.88 L198.6 94.88 L199.1 94.88 L199.6 94.89 L200.1 94.90 L200.6 94.90 L201.1 94.91 L201.6 94.91 L202.1 94.92 L202.6 94.92 L203.1 94.92 L203.6 94.93 L204.1 94.93 L204.6 94.94 L205.1 94.95 L205.6 94.96 L206.1 94.98 L206.6 95.00 L207.1 95.03 L207.6 95.06 L208.1 95.10 L208.6 95.14 L209.1 95.19 L209.6 95.25 L210.1 95.31 L210.6 95.38 L211.1 95.45 L211.6 95.53 L212.1 95.61 L212.6 95.70 L213.1 95.79 L213.6 95.89 L214.1 95.99 L214.6 96.10 L215.1 96.21 L215.6 96.33 L216.1 96.45 L216.6 96.57 L217.1 96.70 L217.6 96.84 L218.1 96.98 L218.6 97.12 L219.1 97.27 L219.6 97.42 L220.1 97.58 L220.6 97.74 L221.1 97.91 L221.6 98.08 L222.1 98.26 L222.6 98.45 L223.1 98.64 L223.6 98.84 L224.1 99.05 L224.6 99.28 L225.1 99.51 L225.6 99.75 L226.1 100.00 L226.6 100.27 L227.1 100.54 L227.6 100.83 L228.1 101.13 L228.6 101.45 L229.1 101.78 L229.6 102.12 L230.1 102.48 L230.6 102.85 L231.1 103.24 L231.6 103.64 L232.1 104.06 L232.6 104.50 L233.1 104.95 L233.6 105.42 L234.1 105.91 L234.6 106.42 L235.1 106.95 L235.6 107.50 L236.1 108.07 L236.6 108.65 L237.1 109.26 L237.6 109.89 L238.1 110.54 L238.6 111.21 L239.1 111.90 L239.6 112.61 L240.1 113.34 L240.6 114.10 L241.1 114.87 L241.6 115.67 L242.1 116.49 L242.6 117.33 L243.1 118.19 L243.6 119.07 L244.1 119.96 L244.6 120.88 L245.1 121.82 L245.6 122.77 L246.1 123.74 L246.6 124.73 L247.1 125.73 L247.6 126.74 L248.1 127.77 L248.6 128.81 L249.1 129.86 L249.6 130.92 L250.1 131.99 L250.6 133.07 L251.1 134.15 L251.6 135.24 L252.1 136.33 L252.6 137.43 L253.1 138.52 L253.6 139.61 L254.1 140.70 L254.6 141.79 L255.1 142.87 L255.6 143.95 L256.1 145.02 L256.6 146.08 L257.1 147.14 L257.6 148.18 L258.1 149.21 L258.6 150.22 L259.1 151.23 L259.6 152.21 L260.1 153.19 L260.6 154.14 L261.1 155.08 L261.6 156.01 L262.1 156.91 L262.6 157.80 L263.1 158.66 L263.6 159.51 L264.1 160.34 L264.6 161.14 L265.1 161.93 L265.6 162.70 L266.1 163.46 L266.6 164.20 L267.1 164.92 L267.6 165.62 L268.1 166.31 L268.6 166.98 L269.1 167.64 L269.6 168.27 L270.1 168.89 L270.6 169.50 L271.1 170.08 L271.6 170.65 L272.1 171.20 L272.6 171.73 L273.1 172.25 L273.6 172.75 L274.1 173.23 L274.6 173.70 L275.1 174.15 L275.6 174.58 L276.1 175.00 L276.6 175.40 L277.1 175.78 L277.6 176.15 L278.1 176.50 L278.6 176.84 L279.1 177.16 L279.6 177.46 L280.1 177.75 L280.6 178.02 L281.1 178.28 L281.6 178.52 L282.1 178.75 L282.6 178.96 L283.1 179.16 L283.6 179.36 L284.1 179.54 L284.6 179.71 L285.1 179.87 L285.6 180.02 L286.1 180.16 L286.6 180.30 L287.1 180.43 L287.6 180.55 L288.1 180.67 L288.6 180.79 L289.1 180.90 L289.6 181.01 L290.1 181.11 L290.6 181.21 L291.1 181.31 L291.6 181.42 L292.1 181.52 L292.6 181.61 L293.1 181.71 L293.6 181.80 L294.1 181.88 L294.6 181.97 L295.1 182.05 L295.6 182.12 L296.1 182.20 L296.6 182.27 L297.1 182.34 L297.6 182.41 L298.1 182.47 L298.6 182.54 L299.1 182.60 L299.6 182.66 L300.1 182.72 L300.6 182.78 L301.1 182.83 L301.6 182.89 L302.1 182.94 L302.6 182.99 L303.1 183.04 L303.6 183.08 L304.1 183.13 L304.6 183.17 L305.1 183.21 L305.6 183.25 L306.1 183.29 L306.6 183.33 L307.1 183.36 L307.6 183.40 L308.1 183.43 L308.6 183.46 L309.1 183.49 L309.6 183.52 L310.1 183.55 L310.6 183.58 L311.1 183.61 L311.6 183.64 L312.1 183.66 L312.6 183.69 L313.1 183.71 L313.6 183.73 L314.1 183.75 L314.6 183.78 L315.1 183.80 L315.6 183.82 L316.1 183.84 L316.6 183.85 L317.1 183.87 L317.6 183.89 L318.1 183.91 L318.6 183.92 L319.1 183.94 L319.6 183.95 L320.1 183.97 L320.6 183.98 L321.1 184.00 L321.6 184.01 L322.1 184.02 L322.6 184.04 L323.1 184.05 L323.6 184.06 L324.1 184.07 L324.6 184.08 L325.1 184.09 L325.6 184.11 L326.1 184.12 L326.6 184.13 L327.1 184.14 L327.6 184.14 L328.1 184.15 L328.6 184.16 L329.1 184.17 L329.6 184.18 L330.1 184.19 L330.6 184.20 L331.1 184.20 L331.6 184.21 L332.1 184.22 L332.6 184.22 L333.1 184.23 L333.6 184.24 L334.1 184.24 L334.6 184.25 L335.1 184.26 L335.6 184.26 L336.1 184.27 L336.6 184.27 L337.1 184.28 L337.6 184.28 L338.1 184.29 L338.6 184.29 L339.1 184.30 L339.6 184.30 L340.1 184.31 L340.6 184.31 L341.1 184.32 L341.6 184.32 L342.1 184.33 L342.6 184.33 L343.1 184.33 L343.6 184.34 L344.1 184.34 L344.6 184.34 L345.1 184.35 L345.6 184.35 L346.1 184.35 L346.6 184.36 L347.1 184.36 L347.6 184.36 L348.1 184.37 L348.6 184.37 L349.1 184.37 L349.6 184.37 L350.1 184.38 L350.6 184.38 L351.1 184.38 L351.6 184.38 L352.1 184.39 L352.6 184.39 L353.1 184.39 L353.6 184.39 L354.1 184.40 L354.6 184.40 L355.1 184.40 L355.6 184.40 L356.1 184.40 L356.6 184.41 L357.1 184.41" stroke="#00ffff" stroke-width="1.8" stroke-dasharray="13.4 4.9"/>
</g>
<g fill="none" stroke-linecap="butt" stroke-linejoin="round">
<path d="M78.9 375.83 L79.4 375.17 L79.9 374.53 L80.4 373.95 L80.9 373.40 L81.4 372.86 L81.9 372.34 L82.4 371.84 L82.9 371.35 L83.4 370.87 L83.9 370.40 L84.4 369.94 L84.9 369.48 L85.4 369.04 L85.9 368.59 L86.4 368.15 L86.9 367.70 L87.4 367.26 L87.9 366.81 L88.4 366.36 L88.9 365.91 L89.4 365.47 L89.9 365.04 L90.4 364.60 L90.9 364.17 L91.4 363.75 L91.9 363.32 L92.4 362.90 L92.9 362.49 L93.4 362.07 L93.9 361.66 L94.4 361.24 L94.9 360.83 L95.4 360.43 L95.9 360.02 L96.4 359.61 L96.9 359.21 L97.4 358.81 L97.9 358.41 L98.4 358.01 L98.9 357.61 L99.4 357.22 L99.9 356.83 L100.4 356.44 L100.9 356.05 L101.4 355.66 L101.9 355.28 L102.4 354.90 L102.9 354.52 L103.4 354.15 L103.9 353.78 L104.4 353.41 L104.9 353.04 L105.4 352.67 L105.9 352.30 L106.4 351.94 L106.9 351.57 L107.4 351.20 L107.9 350.84 L108.4 350.47 L108.9 350.10 L109.4 349.73 L109.9 349.36 L110.4 348.99 L110.9 348.62 L111.4 348.24 L111.9 347.86 L112.4 347.48 L112.9 347.09 L113.4 346.70 L113.9 346.31 L114.4 345.91 L114.9 345.51 L115.4 345.11 L115.9 344.70 L116.4 344.29 L116.9 343.87 L117.4 343.45 L117.9 343.02 L118.4 342.59 L118.9 342.15 L119.4 341.71 L119.9 341.26 L120.4 340.81 L120.9 340.35 L121.4 339.89 L121.9 339.42 L122.4 338.94 L122.9 338.46 L123.4 337.98 L123.9 337.48 L124.4 336.99 L124.9 336.48 L125.4 335.97 L125.9 335.46 L126.4 334.93 L126.9 334.40 L127.4 333.86 L127.9 333.31 L128.4 332.75 L128.9 332.18 L129.4 331.61 L129.9 331.03 L130.4 330.44 L130.9 329.84 L131.4 329.23 L131.9 328.62 L132.4 327.99 L132.9 327.36 L133.4 326.72 L133.9 326.07 L134.4 325.41 L134.9 324.75 L135.4 324.07 L135.9 323.39 L136.4 322.69 L136.9 321.99 L137.4 321.28 L137.9 320.56 L138.4 319.84 L138.9 319.10 L139.4 318.36 L139.9 317.61 L140.4 316.87 L140.9 316.13 L141.4 315.39 L141.9 314.63 L142.4 313.86 L142.9 313.09 L143.4 312.31 L143.9 311.52 L144.4 310.72 L144.9 309.91 L145.4 309.10 L145.9 308.28 L146.4 307.45 L146.9 306.62 L147.4 305.77 L147.9 304.92 L148.4 304.07 L148.9 303.20 L149.4 302.33 L149.9 301.46 L150.4 300.57 L150.9 299.68 L151.4 298.79 L151.9 297.89 L152.4 296.98 L152.9 296.07 L153.4 295.15 L153.9 294.22 L154.4 293.29 L154.9 292.36 L155.4 291.42 L155.9 290.48 L156.4 289.54 L156.9 288.59 L157.4 287.63 L157.9 286.67 L158.4 285.71 L158.9 284.75 L159.4 283.78 L159.9 282.82 L160.4 281.84 L160.9 280.87 L161.4 279.89 L161.9 278.92 L162.4 277.94 L162.9 276.95 L163.4 275.97 L163.9 274.99 L164.4 274.00 L164.9 273.02 L165.4 272.03 L165.9 271.05 L166.4 270.06 L166.9 269.08 L167.4 268.09 L167.9 267.10 L168.4 266.11 L168.9 265.12 L169.4 264.13 L169.9 263.14 L170.4 262.15 L170.9 261.15 L171.4 260.16 L171.9 259.16 L172.4 258.16 L172.9 257.15 L173.4 256.15 L173.9 255.14 L174.4 254.13 L174.9 253.12 L175.4 252.10 L175.9 251.08 L176.4 250.06 L176.9 249.05 L177.4 248.02 L177.9 247.00 L178.4 245.98 L178.9 244.96 L179.4 243.94 L179.9 242.92 L180.4 241.90 L180.9 240.88 L181.4 239.86 L181.9 238.85 L182.4 237.84 L182.9 236.83 L183.4 235.82 L183.9 234.81 L184.4 233.81 L184.9 232.82 L185.4 231.82 L185.9 230.84 L186.4 229.86 L186.9 228.88 L187.4 227.91 L187.9 226.94 L188.4 225.98 L188.9 225.03 L189.4 224.09 L189.9 223.15 L190.4 222.23 L190.9 221.31 L191.4 220.40 L191.9 219.50 L192.4 218.61 L192.9 217.74 L193.4 216.88 L193.9 216.03 L194.4 215.20 L194.9 214.38 L195.4 213.58 L195.9 212.80 L196.4 212.03 L196.9 211.29 L197.4 210.56 L197.9 209.85 L198.4 209.17 L198.9 208.51 L199.4 207.87 L199.9 207.25 L200.4 206.66 L200.9 206.09 L201.4 205.55 L201.9 205.03 L202.4 204.54 L202.9 204.08 L203.4 203.65 L203.9 203.25 L204.4 202.87 L204.9 202.53 L205.4 202.22 L205.9 201.94 L206.4 201.70 L206.9 201.48 L207.4 201.30 L207.9 201.16 L208.4 201.04 L208.9 200.96 L209.4 200.92 L209.9 200.91 L210.4 200.93 L210.9 200.99 L211.4 201.08 L211.9 201.21 L212.4 201.37 L212.9 201.58 L213.4 201.81 L213.9 202.09 L214.4 202.40 L214.9 202.74 L215.4 203.13 L215.9 203.54 L216.4 204.00 L216.9 204.49 L217.4 205.01 L217.9 205.57 L218.4 206.16 L218.9 206.79 L219.4 207.46 L219.9 208.15 L220.4 208.88 L220.9 209.65 L221.4 210.45 L221.9 211.28 L222.4 212.14 L222.9 213.04 L223.4 213.96 L223.9 214.92 L224.4 215.90 L224.9 216.91 L225.4 217.95 L225.9 219.01 L226.4 220.10 L226.9 221.21 L227.4 222.34 L227.9 223.50 L228.4 224.67 L228.9 225.87 L229.4 227.09 L229.9 228.32 L230.4 229.57 L230.9 230.84 L231.4 232.12 L231.9 233.42 L232.4 234.74 L232.9 236.07 L233.4 237.40 L233.9 238.76 L234.4 240.12 L234.9 241.49 L235.4 242.87 L235.9 244.26 L236.4 245.66 L236.9 247.07 L237.4 248.48 L237.9 249.89 L238.4 251.32 L238.9 252.75 L239.4 254.18 L239.9 255.62 L240.4 257.06 L240.9 258.51 L241.4 259.97 L241.9 261.43 L242.4 262.89 L242.9 264.36 L243.4 265.83 L243.9 267.31 L244.4 268.79 L244.9 270.28 L245.4 271.77 L245.9 273.26 L246.4 274.76 L246.9 276.25 L247.4 277.75 L247.9 279.24 L248.4 280.73 L248.9 282.21 L249.4 283.69 L249.9 285.16 L250.4 286.63 L250.9 288.08 L251.4 289.52 L251.9 290.96 L252.4 292.38 L252.9 293.78 L253.4 295.17 L253.9 296.55 L254.4 297.91 L254.9 299.25 L255.4 300.58 L255.9 301.89 L256.4 303.18 L256.9 304.46 L257.4 305.72 L257.9 306.96 L258.4 308.19 L258.9 309.40 L259.4 310.59 L259.9 311.76 L260.4 312.91 L260.9 314.05 L261.4 315.16 L261.9 316.26 L262.4 317.34 L262.9 318.41 L263.4 319.46 L263.9 320.49 L264.4 321.51 L264.9 322.51 L265.4 323.50 L265.9 324.48 L266.4 325.44 L266.9 326.40 L267.4 327.34 L267.9 328.27 L268.4 329.20 L268.9 330.11 L269.4 331.02 L269.9 331.91 L270.4 332.80 L270.9 333.68 L271.4 334.54 L271.9 335.40 L272.4 336.25 L272.9 337.09 L273.4 337.92 L273.9 338.74 L274.4 339.55 L274.9 340.34 L275.4 341.13 L275.9 341.91 L276.4 342.67 L276.9 343.43 L277.4 344.17 L277.9 344.91 L278.4 345.63 L278.9 346.34 L279.4 347.04 L279.9 347.72 L280.4 348.40 L280.9 349.06 L281.4 349.71 L281.9 350.35 L282.4 350.97 L282.9 351.59 L283.4 352.19 L283.9 352.77 L284.4 353.35 L284.9 353.91 L285.4 354.45 L285.9 354.99 L286.4 355.51 L286.9 356.02 L287.4 356.51 L287.9 357.00 L288.4 357.47 L288.9 357.93 L289.4 358.37 L289.9 358.81 L290.4 359.23 L290.9 359.64 L291.4 360.04 L291.9 360.43 L292.4 360.80 L292.9 361.17 L293.4 361.52 L293.9 361.86 L294.4 362.19 L294.9 362.52 L295.4 362.83 L295.9 363.13 L296.4 363.42 L296.9 363.71 L297.4 363.98 L297.9 364.25 L298.4 364.51 L298.9 364.77 L299.4 365.01 L299.9 365.25 L300.4 365.48 L300.9 365.71 L301.4 365.93 L301.9 366.14 L302.4 366.35 L302.9 366.56 L303.4 366.76 L303.9 366.95 L304.4 367.14 L304.9 367.32 L305.4 367.50 L305.9 367.68 L306.4 367.85 L306.9 368.02 L307.4 368.18 L307.9 368.34 L308.4 368.50 L308.9 368.66 L309.4 368.81 L309.9 368.96 L310.4 369.10 L310.9 369.25 L311.4 369.39 L311.9 369.53 L312.4 369.66 L312.9 369.79 L313.4 369.93 L313.9 370.05 L314.4 370.18 L314.9 370.30 L315.4 370.43 L315.9 370.55 L316.4 370.67 L316.9 370.78 L317.4 370.90 L317.9 371.01 L318.4 371.12 L318.9 371.22 L319.4 371.33 L319.9 371.43 L320.4 371.53 L320.9 371.63 L321.4 371.73 L321.9 371.82 L322.4 371.91 L322.9 372.00 L323.4 372.09 L323.9 372.17 L324.4 372.25 L324.9 372.33 L325.4 372.41 L325.9 372.48 L326.4 372.55 L326.9 372.62 L327.4 372.68 L327.9 372.75 L328.4 372.81 L328.9 372.87 L329.4 372.93 L329.9 372.98 L330.4 373.04 L330.9 373.09 L331.4 373.14 L331.9 373.18 L332.4 373.23 L332.9 373.27 L333.4 373.31 L333.9 373.35 L334.4 373.39 L334.9 373.43 L335.4 373.46 L335.9 373.49 L336.4 373.52 L336.9 373.54 L337.4 373.57 L337.9 373.59 L338.4 373.60 L338.9 373.62 L339.4 373.63" stroke="#000" stroke-width="1.8"/>
<path d="M69.7 375.51 L70.2 375.52 L70.7 375.53 L71.2 375.54 L71.7 375.55 L72.2 375.56 L72.7 375.57 L73.2 375.57 L73.7 375.58 L74.2 375.59 L74.7 375.59 L75.2 375.60 L75.7 375.60 L76.2 375.61 L76.7 375.61 L77.2 375.62 L77.7 375.62 L78.2 375.62 L78.7 375.63 L79.2 375.63 L79.7 375.64 L80.2 375.64 L80.7 375.64 L81.2 375.64 L81.7 375.65 L82.2 375.65 L82.7 375.65 L83.2 375.65 L83.7 375.66 L84.2 375.66 L84.7 375.66 L85.2 375.66 L85.7 375.66 L86.2 375.67 L86.7 375.67 L87.2 375.67 L87.7 375.67 L88.2 375.67 L88.7 375.67 L89.2 375.67 L89.7 375.67 L90.2 375.68 L90.7 375.68 L91.2 375.68 L91.7 375.68 L92.2 375.68 L92.7 375.68 L93.2 375.68 L93.7 375.68 L94.2 375.68 L94.7 375.68 L95.2 375.68 L95.7 375.68 L96.2 375.68 L96.7 375.68 L97.2 375.68 L97.7 375.68 L98.2 375.68 L98.7 375.68 L99.2 375.68 L99.7 375.68 L100.2 375.67 L100.7 375.67 L101.2 375.67 L101.7 375.67 L102.2 375.67 L102.7 375.67 L103.2 375.67 L103.7 375.66 L104.2 375.66 L104.7 375.66 L105.2 375.66 L105.7 375.65 L106.2 375.65 L106.7 375.65 L107.2 375.64 L107.7 375.64 L108.2 375.64 L108.7 375.63 L109.2 375.63 L109.7 375.62 L110.2 375.62 L110.7 375.62 L111.2 375.61 L111.7 375.61 L112.2 375.60 L112.7 375.60 L113.2 375.59 L113.7 375.58 L114.2 375.58 L114.7 375.57 L115.2 375.56 L115.7 375.56 L116.2 375.55 L116.7 375.54 L117.2 375.53 L117.7 375.53 L118.2 375.52 L118.7 375.51 L119.2 375.50 L119.7 375.49 L120.2 375.48 L120.7 375.47 L121.2 375.46 L121.7 375.45 L122.2 375.44 L122.7 375.43 L123.2 375.42 L123.7 375.40 L124.2 375.39 L124.7 375.38 L125.2 375.36 L125.7 375.35 L126.2 375.34 L126.7 375.32 L127.2 375.31 L127.7 375.29 L128.2 375.27 L128.7 375.26 L129.2 375.24 L129.7 375.22 L130.2 375.21 L130.7 375.19 L131.2 375.17 L131.7 375.15 L132.2 375.13 L132.7 375.11 L133.2 375.08 L133.7 375.06 L134.2 375.04 L134.7 375.02 L135.2 374.99 L135.7 374.97 L136.2 374.94 L136.7 374.91 L137.2 374.89 L137.7 374.86 L138.2 374.83 L138.7 374.80 L139.2 374.77 L139.7 374.74 L140.2 374.71 L140.7 374.67 L141.2 374.64 L141.7 374.61 L142.2 374.57 L142.7 374.53 L143.2 374.50 L143.7 374.46 L144.2 374.42 L144.7 374.38 L145.2 374.34 L145.7 374.29 L146.2 374.25 L146.7 374.20 L147.2 374.16 L147.7 374.11 L148.2 374.06 L148.7 374.01 L149.2 373.96 L149.7 373.90 L150.2 373.85 L150.7 373.79 L151.2 373.74 L151.7 373.68 L152.2 373.61 L152.7 373.55 L153.2 373.48 L153.7 373.42 L154.2 373.35 L154.7 373.27 L155.2 373.20 L155.7 373.12 L156.2 373.05 L156.7 372.97 L157.2 372.88 L157.7 372.80 L158.2 372.71 L158.7 372.62 L159.2 372.53 L159.7 372.43 L160.2 372.34 L160.7 372.24 L161.2 372.13 L161.7 372.03 L162.2 371.92 L162.7 371.81 L163.2 371.70 L163.7 371.58 L164.2 371.46 L164.7 371.34 L165.2 371.21 L165.7 371.08 L166.2 370.95 L166.7 370.81 L167.2 370.68 L167.7 370.53 L168.2 370.39 L168.7 370.24 L169.2 370.09 L169.7 369.93 L170.2 369.77 L170.7 369.60 L171.2 369.44 L171.7 369.26 L172.2 369.09 L172.7 368.91 L173.2 368.72 L173.7 368.53 L174.2 368.34 L174.7 368.14 L175.2 367.94 L175.7 367.73 L176.2 367.52 L176.7 367.30 L177.2 367.08 L177.7 366.85 L178.2 366.62 L178.7 366.38 L179.2 366.14 L179.7 365.89 L180.2 365.64 L180.7 365.38 L181.2 365.11 L181.7 364.84 L182.2 364.56 L182.7 364.28 L183.2 363.99 L183.7 363.70 L184.2 363.39 L184.7 363.08 L185.2 362.77 L185.7 362.46 L186.2 362.14 L186.7 361.82 L187.2 361.48 L187.7 361.14 L188.2 360.79 L188.7 360.44 L189.2 360.07 L189.7 359.70 L190.2 359.33 L190.7 358.94 L191.2 358.55 L191.7 358.15 L192.2 357.74 L192.7 357.32 L193.2 356.89 L193.7 356.46 L194.2 356.02 L194.7 355.57 L195.2 355.11 L195.7 354.64 L196.2 354.16 L196.7 353.68 L197.2 353.19 L197.7 352.69 L198.2 352.18 L198.7 351.66 L199.2 351.13 L199.7 350.60 L200.2 350.06 L200.7 349.51 L201.2 348.95 L201.7 348.38 L202.2 347.81 L202.7 347.22 L203.2 346.64 L203.7 346.04 L204.2 345.44 L204.7 344.83 L205.2 344.21 L205.7 343.59 L206.2 342.96 L206.7 342.32 L207.2 341.68 L207.7 341.04 L208.2 340.39 L208.7 339.74 L209.2 339.09 L209.7 338.43 L210.2 337.77 L210.7 337.11 L211.2 336.44 L211.7 335.78 L212.2 335.12 L212.7 334.46 L213.2 333.80 L213.7 333.14 L214.2 332.49 L214.7 331.84 L215.2 331.20 L215.7 330.57 L216.2 329.94 L216.7 329.32 L217.2 328.71 L217.7 328.11 L218.2 327.52 L218.7 326.94 L219.2 326.38 L219.7 325.83 L220.2 325.30 L220.7 324.78 L221.2 324.28 L221.7 323.80 L222.2 323.34 L222.7 322.90 L223.2 322.48 L223.7 322.08 L224.2 321.71 L224.7 321.36 L225.2 321.04 L225.7 320.74 L226.2 320.47 L226.7 320.22 L227.2 320.01 L227.7 319.82 L228.2 319.66 L228.7 319.53 L229.2 319.43 L229.7 319.35 L230.2 319.31 L230.7 319.30 L231.2 319.31 L231.7 319.36 L232.2 319.43 L232.7 319.53 L233.2 319.66 L233.7 319.82 L234.2 320.01 L234.7 320.23 L235.2 320.47 L235.7 320.73 L236.2 321.03 L236.7 321.34 L237.2 321.68 L237.7 322.04 L238.2 322.43 L238.7 322.84 L239.2 323.26 L239.7 323.71 L240.2 324.17 L240.7 324.65 L241.2 325.14 L241.7 325.66 L242.2 326.18 L242.7 326.72 L243.2 327.27 L243.7 327.83 L244.2 328.40 L244.7 328.98 L245.2 329.57 L245.7 330.17 L246.2 330.77 L246.7 331.38 L247.2 331.99 L247.7 332.61 L248.2 333.23 L248.7 333.85 L249.2 334.48 L249.7 335.10 L250.2 335.73 L250.7 336.35 L251.2 336.98 L251.7 337.60 L252.2 338.22 L252.7 338.84 L253.2 339.46 L253.7 340.07 L254.2 340.68 L254.7 341.29 L255.2 341.89 L255.7 342.48 L256.2 343.07 L256.7 343.66 L257.2 344.24 L257.7 344.81 L258.2 345.38 L258.7 345.94 L259.2 346.50 L259.7 347.05 L260.2 347.59 L260.7 348.13 L261.2 348.66 L261.7 349.18 L262.2 349.69 L262.7 350.20 L263.2 350.70 L263.7 351.19 L264.2 351.68 L264.7 352.16 L265.2 352.63 L265.7 353.10 L266.2 353.55 L266.7 354.00 L267.2 354.45 L267.7 354.88 L268.2 355.31 L268.7 355.74 L269.2 356.15 L269.7 356.56 L270.2 356.96 L270.7 357.35 L271.2 357.74 L271.7 358.12 L272.2 358.50 L272.7 358.86 L273.2 359.22 L273.7 359.58 L274.2 359.93 L274.7 360.27 L275.2 360.60 L275.7 360.93 L276.2 361.26 L276.7 361.57 L277.2 361.89 L277.7 362.19 L278.2 362.49 L278.7 362.79 L279.2 363.07 L279.7 363.36 L280.2 363.63 L280.7 363.90 L281.2 364.17 L281.7 364.43 L282.2 364.69 L282.7 364.94 L283.2 365.18 L283.7 365.42 L284.2 365.66 L284.7 365.89 L285.2 366.12 L285.7 366.34 L286.2 366.55 L286.7 366.77 L287.2 366.97 L287.7 367.18 L288.2 367.37 L288.7 367.57 L289.2 367.76 L289.7 367.94 L290.2 368.13 L290.7 368.30 L291.2 368.48 L291.7 368.65 L292.2 368.81 L292.7 368.98 L293.2 369.14 L293.7 369.29 L294.2 369.44 L294.7 369.59 L295.2 369.73 L295.7 369.88 L296.2 370.01 L296.7 370.15 L297.2 370.28 L297.7 370.41 L298.2 370.53 L298.7 370.65 L299.2 370.77 L299.7 370.89 L300.2 371.00 L300.7 371.11 L301.2 371.22 L301.7 371.33 L302.2 371.43 L302.7 371.53 L303.2 371.63 L303.7 371.72 L304.2 371.81 L304.7 371.91 L305.2 371.99 L305.7 372.08 L306.2 372.16 L306.7 372.24 L307.2 372.32 L307.7 372.40 L308.2 372.48 L308.7 372.55 L309.2 372.62 L309.7 372.69 L310.2 372.76 L310.7 372.82 L311.2 372.89 L311.7 372.95 L312.2 373.01 L312.7 373.07 L313.2 373.13 L313.7 373.18 L314.2 373.24 L314.7 373.29 L315.2 373.34 L315.7 373.39 L316.2 373.44 L316.7 373.49 L317.2 373.53 L317.7 373.58 L318.2 373.62 L318.7 373.66 L319.2 373.70 L319.7 373.74 L320.2 373.78 L320.7 373.82 L321.2 373.85 L321.7 373.89 L322.2 373.92 L322.7 373.95 L323.2 373.98 L323.7 374.01 L324.2 374.04 L324.7 374.06 L325.2 374.09 L325.7 374.11 L326.2 374.13 L326.7 374.15 L327.2 374.17 L327.7 374.19 L328.2 374.20 L328.7 374.22 L329.2 374.23 L329.7 374.24 L330.2 374.25 L330.7 374.26" stroke="#0000ff" stroke-width="1.8" stroke-dasharray="5.4 2.3"/>
<path d="M78.3 375.49 L78.8 375.50 L79.3 375.51 L79.8 375.51 L80.3 375.52 L80.8 375.52 L81.3 375.52 L81.8 375.53 L82.3 375.53 L82.8 375.54 L83.3 375.54 L83.8 375.54 L84.3 375.54 L84.8 375.55 L85.3 375.55 L85.8 375.55 L86.3 375.55 L86.8 375.55 L87.3 375.56 L87.8 375.56 L88.3 375.56 L88.8 375.56 L89.3 375.56 L89.8 375.56 L90.3 375.56 L90.8 375.56 L91.3 375.56 L91.8 375.56 L92.3 375.56 L92.8 375.56 L93.3 375.56 L93.8 375.56 L94.3 375.56 L94.8 375.56 L95.3 375.56 L95.8 375.56 L96.3 375.56 L96.8 375.56 L97.3 375.56 L97.8 375.56 L98.3 375.56 L98.8 375.56 L99.3 375.56 L99.8 375.56 L100.3 375.56 L100.8 375.56 L101.3 375.56 L101.8 375.55 L102.3 375.55 L102.8 375.55 L103.3 375.55 L103.8 375.55 L104.3 375.55 L104.8 375.55 L105.3 375.54 L105.8 375.54 L106.3 375.54 L106.8 375.54 L107.3 375.54 L107.8 375.53 L108.3 375.53 L108.8 375.53 L109.3 375.52 L109.8 375.52 L110.3 375.52 L110.8 375.51 L111.3 375.51 L111.8 375.51 L112.3 375.50 L112.8 375.50 L113.3 375.50 L113.8 375.49 L114.3 375.49 L114.8 375.48 L115.3 375.48 L115.8 375.47 L116.3 375.47 L116.8 375.46 L117.3 375.46 L117.8 375.45 L118.3 375.44 L118.8 375.44 L119.3 375.43 L119.8 375.43 L120.3 375.42 L120.8 375.41 L121.3 375.40 L121.8 375.40 L122.3 375.39 L122.8 375.38 L123.3 375.37 L123.8 375.36 L124.3 375.35 L124.8 375.34 L125.3 375.33 L125.8 375.32 L126.3 375.31 L126.8 375.30 L127.3 375.29 L127.8 375.28 L128.3 375.27 L128.8 375.26 L129.3 375.25 L129.8 375.23 L130.3 375.22 L130.8 375.21 L131.3 375.19 L131.8 375.18 L132.3 375.16 L132.8 375.15 L133.3 375.13 L133.8 375.11 L134.3 375.10 L134.8 375.08 L135.3 375.06 L135.8 375.04 L136.3 375.03 L136.8 375.01 L137.3 374.99 L137.8 374.97 L138.3 374.95 L138.8 374.92 L139.3 374.90 L139.8 374.88 L140.3 374.85 L140.8 374.83 L141.3 374.81 L141.8 374.78 L142.3 374.75 L142.8 374.73 L143.3 374.70 L143.8 374.67 L144.3 374.64 L144.8 374.61 L145.3 374.58 L145.8 374.55 L146.3 374.51 L146.8 374.48 L147.3 374.45 L147.8 374.41 L148.3 374.37 L148.8 374.34 L149.3 374.30 L149.8 374.26 L150.3 374.22 L150.8 374.17 L151.3 374.13 L151.8 374.08 L152.3 374.04 L152.8 373.99 L153.3 373.94 L153.8 373.89 L154.3 373.83 L154.8 373.78 L155.3 373.72 L155.8 373.66 L156.3 373.60 L156.8 373.54 L157.3 373.47 L157.8 373.40 L158.3 373.34 L158.8 373.26 L159.3 373.19 L159.8 373.12 L160.3 373.04 L160.8 372.96 L161.3 372.88 L161.8 372.80 L162.3 372.71 L162.8 372.62 L163.3 372.53 L163.8 372.43 L164.3 372.34 L164.8 372.24 L165.3 372.14 L165.8 372.03 L166.3 371.93 L166.8 371.82 L167.3 371.70 L167.8 371.59 L168.3 371.47 L168.8 371.34 L169.3 371.22 L169.8 371.09 L170.3 370.96 L170.8 370.82 L171.3 370.68 L171.8 370.54 L172.3 370.39 L172.8 370.24 L173.3 370.08 L173.8 369.92 L174.3 369.76 L174.8 369.59 L175.3 369.42 L175.8 369.24 L176.3 369.06 L176.8 368.88 L177.3 368.69 L177.8 368.49 L178.3 368.29 L178.8 368.09 L179.3 367.88 L179.8 367.67 L180.3 367.45 L180.8 367.22 L181.3 366.99 L181.8 366.75 L182.3 366.51 L182.8 366.26 L183.3 366.01 L183.8 365.75 L184.3 365.48 L184.8 365.20 L185.3 364.93 L185.8 364.65 L186.3 364.37 L186.8 364.08 L187.3 363.78 L187.8 363.48 L188.3 363.16 L188.8 362.84 L189.3 362.52 L189.8 362.18 L190.3 361.84 L190.8 361.48 L191.3 361.13 L191.8 360.76 L192.3 360.38 L192.8 360.00 L193.3 359.60 L193.8 359.20 L194.3 358.79 L194.8 358.37 L195.3 357.94 L195.8 357.50 L196.3 357.05 L196.8 356.59 L197.3 356.12 L197.8 355.64 L198.3 355.15 L198.8 354.65 L199.3 354.14 L199.8 353.62 L200.3 353.08 L200.8 352.54 L201.3 351.99 L201.8 351.42 L202.3 350.85 L202.8 350.26 L203.3 349.66 L203.8 349.05 L204.3 348.43 L204.8 347.80 L205.3 347.15 L205.8 346.50 L206.3 345.83 L206.8 345.15 L207.3 344.46 L207.8 343.76 L208.3 343.04 L208.8 342.32 L209.3 341.58 L209.8 340.83 L210.3 340.07 L210.8 339.30 L211.3 338.52 L211.8 337.73 L212.3 336.92 L212.8 336.11 L213.3 335.29 L213.8 334.46 L214.3 333.62 L214.8 332.77 L215.3 331.91 L215.8 331.05 L216.3 330.18 L216.8 329.30 L217.3 328.42 L217.8 327.53 L218.3 326.64 L218.8 325.75 L219.3 324.85 L219.8 323.95 L220.3 323.06 L220.8 322.16 L221.3 321.26 L221.8 320.37 L222.3 319.48 L222.8 318.60 L223.3 317.72 L223.8 316.85 L224.3 315.99 L224.8 315.14 L225.3 314.31 L225.8 313.48 L226.3 312.68 L226.8 311.89 L227.3 311.11 L227.8 310.36 L228.3 309.63 L228.8 308.92 L229.3 308.24 L229.8 307.58 L230.3 306.95 L230.8 306.35 L231.3 305.78 L231.8 305.24 L232.3 304.73 L232.8 304.26 L233.3 303.82 L233.8 303.42 L234.3 303.06 L234.8 302.73 L235.3 302.44 L235.8 302.20 L236.3 301.99 L236.8 301.83 L237.3 301.70 L237.8 301.62 L238.3 301.58 L238.8 301.58 L239.3 301.62 L239.8 301.70 L240.3 301.83 L240.8 301.99 L241.3 302.20 L241.8 302.44 L242.3 302.72 L242.8 303.04 L243.3 303.40 L243.8 303.79 L244.3 304.22 L244.8 304.68 L245.3 305.17 L245.8 305.69 L246.3 306.24 L246.8 306.82 L247.3 307.43 L247.8 308.06 L248.3 308.72 L248.8 309.39 L249.3 310.09 L249.8 310.81 L250.3 311.55 L250.8 312.30 L251.3 313.07 L251.8 313.85 L252.3 314.64 L252.8 315.45 L253.3 316.26 L253.8 317.08 L254.3 317.91 L254.8 318.75 L255.3 319.59 L255.8 320.43 L256.3 321.28 L256.8 322.13 L257.3 322.97 L257.8 323.82 L258.3 324.67 L258.8 325.52 L259.3 326.36 L259.8 327.20 L260.3 328.03 L260.8 328.86 L261.3 329.69 L261.8 330.51 L262.3 331.32 L262.8 332.13 L263.3 332.92 L263.8 333.72 L264.3 334.50 L264.8 335.27 L265.3 336.04 L265.8 336.80 L266.3 337.54 L266.8 338.28 L267.3 339.01 L267.8 339.73 L268.3 340.44 L268.8 341.14 L269.3 341.83 L269.8 342.50 L270.3 343.17 L270.8 343.83 L271.3 344.48 L271.8 345.12 L272.3 345.75 L272.8 346.36 L273.3 346.97 L273.8 347.57 L274.3 348.15 L274.8 348.73 L275.3 349.30 L275.8 349.86 L276.3 350.40 L276.8 350.94 L277.3 351.47 L277.8 351.99 L278.3 352.49 L278.8 352.99 L279.3 353.48 L279.8 353.96 L280.3 354.43 L280.8 354.90 L281.3 355.35 L281.8 355.79 L282.3 356.23 L282.8 356.66 L283.3 357.08 L283.8 357.49 L284.3 357.89 L284.8 358.29 L285.3 358.67 L285.8 359.05 L286.3 359.43 L286.8 359.79 L287.3 360.15 L287.8 360.50 L288.3 360.84 L288.8 361.17 L289.3 361.50 L289.8 361.82 L290.3 362.14 L290.8 362.45 L291.3 362.75 L291.8 363.04 L292.3 363.33 L292.8 363.62 L293.3 363.89 L293.8 364.16 L294.3 364.43 L294.8 364.69 L295.3 364.94 L295.8 365.19 L296.3 365.43 L296.8 365.67 L297.3 365.90 L297.8 366.13 L298.3 366.35 L298.8 366.57 L299.3 366.78 L299.8 366.99 L300.3 367.19 L300.8 367.39 L301.3 367.59 L301.8 367.78 L302.3 367.96 L302.8 368.14 L303.3 368.32 L303.8 368.49 L304.3 368.66 L304.8 368.83 L305.3 368.99 L305.8 369.15 L306.3 369.30 L306.8 369.45 L307.3 369.60 L307.8 369.74 L308.3 369.88 L308.8 370.01 L309.3 370.15 L309.8 370.28 L310.3 370.40 L310.8 370.53 L311.3 370.65 L311.8 370.77 L312.3 370.88 L312.8 370.99 L313.3 371.10 L313.8 371.21 L314.3 371.31 L314.8 371.41 L315.3 371.51 L315.8 371.61 L316.3 371.70 L316.8 371.79 L317.3 371.88 L317.8 371.97 L318.3 372.06 L318.8 372.14 L319.3 372.22 L319.8 372.30 L320.3 372.37 L320.8 372.45 L321.3 372.52 L321.8 372.59 L322.3 372.66 L322.8 372.72 L323.3 372.79 L323.8 372.85 L324.3 372.91 L324.8 372.97 L325.3 373.03 L325.8 373.09 L326.3 373.14 L326.8 373.19 L327.3 373.25 L327.8 373.30 L328.3 373.34 L328.8 373.39 L329.3 373.44 L329.8 373.48 L330.3 373.52 L330.8 373.56 L331.3 373.60 L331.8 373.64 L332.3 373.68 L332.8 373.71 L333.3 373.74 L333.8 373.78 L334.3 373.81 L334.8 373.83 L335.3 373.86 L335.8 373.88 L336.3 373.91 L336.8 373.93 L337.3 373.95 L337.8 373.97 L338.3 373.98 L338.8 373.99 L339.3 374.01" stroke="#ff0000" stroke-width="1.8" stroke-dasharray="2.5 2.4"/>
<path d="M87.1 375.50 L87.6 375.50 L88.1 375.50 L88.6 375.50 L89.1 375.50 L89.6 375.50 L90.1 375.50 L90.6 375.50 L91.1 375.50 L91.6 375.50 L92.1 375.50 L92.6 375.50 L93.1 375.50 L93.6 375.50 L94.1 375.50 L94.6 375.50 L95.1 375.50 L95.6 375.50 L96.1 375.50 L96.6 375.50 L97.1 375.50 L97.6 375.50 L98.1 375.50 L98.6 375.50 L99.1 375.49 L99.6 375.49 L100.1 375.49 L100.6 375.49 L101.1 375.49 L101.6 375.49 L102.1 375.49 L102.6 375.48 L103.1 375.48 L103.6 375.48 L104.1 375.48 L104.6 375.48 L105.1 375.47 L105.6 375.47 L106.1 375.47 L106.6 375.47 L107.1 375.46 L107.6 375.46 L108.1 375.46 L108.6 375.46 L109.1 375.45 L109.6 375.45 L110.1 375.45 L110.6 375.44 L111.1 375.44 L111.6 375.44 L112.1 375.43 L112.6 375.43 L113.1 375.43 L113.6 375.42 L114.1 375.42 L114.6 375.41 L115.1 375.41 L115.6 375.41 L116.1 375.40 L116.6 375.40 L117.1 375.39 L117.6 375.39 L118.1 375.38 L118.6 375.38 L119.1 375.37 L119.6 375.37 L120.1 375.36 L120.6 375.35 L121.1 375.35 L121.6 375.34 L122.1 375.34 L122.6 375.33 L123.1 375.32 L123.6 375.31 L124.1 375.31 L124.6 375.30 L125.1 375.29 L125.6 375.28 L126.1 375.28 L126.6 375.27 L127.1 375.26 L127.6 375.25 L128.1 375.24 L128.6 375.23 L129.1 375.22 L129.6 375.21 L130.1 375.20 L130.6 375.19 L131.1 375.18 L131.6 375.17 L132.1 375.16 L132.6 375.15 L133.1 375.14 L133.6 375.12 L134.1 375.11 L134.6 375.10 L135.1 375.08 L135.6 375.07 L136.1 375.06 L136.6 375.04 L137.1 375.03 L137.6 375.01 L138.1 375.00 L138.6 374.98 L139.1 374.97 L139.6 374.95 L140.1 374.93 L140.6 374.91 L141.1 374.90 L141.6 374.88 L142.1 374.86 L142.6 374.84 L143.1 374.82 L143.6 374.80 L144.1 374.78 L144.6 374.76 L145.1 374.74 L145.6 374.71 L146.1 374.69 L146.6 374.67 L147.1 374.64 L147.6 374.62 L148.1 374.59 L148.6 374.56 L149.1 374.54 L149.6 374.51 L150.1 374.48 L150.6 374.45 L151.1 374.42 L151.6 374.39 L152.1 374.36 L152.6 374.32 L153.1 374.29 L153.6 374.25 L154.1 374.21 L154.6 374.18 L155.1 374.14 L155.6 374.09 L156.1 374.05 L156.6 374.01 L157.1 373.96 L157.6 373.92 L158.1 373.87 L158.6 373.82 L159.1 373.77 L159.6 373.71 L160.1 373.66 L160.6 373.60 L161.1 373.55 L161.6 373.49 L162.1 373.43 L162.6 373.36 L163.1 373.30 L163.6 373.23 L164.1 373.16 L164.6 373.09 L165.1 373.02 L165.6 372.95 L166.1 372.87 L166.6 372.79 L167.1 372.71 L167.6 372.63 L168.1 372.54 L168.6 372.46 L169.1 372.37 L169.6 372.27 L170.1 372.18 L170.6 372.08 L171.1 371.98 L171.6 371.88 L172.1 371.77 L172.6 371.67 L173.1 371.55 L173.6 371.44 L174.1 371.32 L174.6 371.20 L175.1 371.08 L175.6 370.95 L176.1 370.82 L176.6 370.68 L177.1 370.54 L177.6 370.40 L178.1 370.26 L178.6 370.11 L179.1 369.95 L179.6 369.80 L180.1 369.63 L180.6 369.47 L181.1 369.30 L181.6 369.12 L182.1 368.94 L182.6 368.76 L183.1 368.57 L183.6 368.38 L184.1 368.18 L184.6 367.97 L185.1 367.77 L185.6 367.56 L186.1 367.35 L186.6 367.13 L187.1 366.91 L187.6 366.68 L188.1 366.45 L188.6 366.21 L189.1 365.96 L189.6 365.71 L190.1 365.44 L190.6 365.18 L191.1 364.90 L191.6 364.62 L192.1 364.33 L192.6 364.04 L193.1 363.73 L193.6 363.42 L194.1 363.10 L194.6 362.78 L195.1 362.44 L195.6 362.10 L196.1 361.74 L196.6 361.38 L197.1 361.01 L197.6 360.63 L198.1 360.24 L198.6 359.85 L199.1 359.44 L199.6 359.02 L200.1 358.59 L200.6 358.16 L201.1 357.71 L201.6 357.25 L202.1 356.78 L202.6 356.30 L203.1 355.81 L203.6 355.30 L204.1 354.79 L204.6 354.26 L205.1 353.72 L205.6 353.17 L206.1 352.61 L206.6 352.03 L207.1 351.44 L207.6 350.84 L208.1 350.23 L208.6 349.60 L209.1 348.96 L209.6 348.31 L210.1 347.64 L210.6 346.96 L211.1 346.26 L211.6 345.55 L212.1 344.83 L212.6 344.09 L213.1 343.34 L213.6 342.57 L214.1 341.79 L214.6 341.00 L215.1 340.19 L215.6 339.37 L216.1 338.53 L216.6 337.68 L217.1 336.81 L217.6 335.93 L218.1 335.04 L218.6 334.13 L219.1 333.21 L219.6 332.28 L220.1 331.34 L220.6 330.38 L221.1 329.41 L221.6 328.44 L222.1 327.45 L222.6 326.45 L223.1 325.44 L223.6 324.42 L224.1 323.40 L224.6 322.37 L225.1 321.33 L225.6 320.29 L226.1 319.25 L226.6 318.20 L227.1 317.15 L227.6 316.10 L228.1 315.05 L228.6 314.01 L229.1 312.97 L229.6 311.93 L230.1 310.90 L230.6 309.88 L231.1 308.87 L231.6 307.87 L232.1 306.89 L232.6 305.92 L233.1 304.97 L233.6 304.04 L234.1 303.12 L234.6 302.23 L235.1 301.37 L235.6 300.53 L236.1 299.72 L236.6 298.94 L237.1 298.19 L237.6 297.48 L238.1 296.80 L238.6 296.15 L239.1 295.55 L239.6 294.98 L240.1 294.46 L240.6 293.97 L241.1 293.53 L241.6 293.13 L242.1 292.78 L242.6 292.47 L243.1 292.21 L243.6 291.99 L244.1 291.82 L244.6 291.70 L245.1 291.62 L245.6 291.59 L246.1 291.61 L246.6 291.67 L247.1 291.78 L247.6 291.93 L248.1 292.12 L248.6 292.36 L249.1 292.64 L249.6 292.96 L250.1 293.32 L250.6 293.72 L251.1 294.16 L251.6 294.64 L252.1 295.14 L252.6 295.68 L253.1 296.26 L253.6 296.86 L254.1 297.49 L254.6 298.15 L255.1 298.83 L255.6 299.54 L256.1 300.27 L256.6 301.02 L257.1 301.79 L257.6 302.58 L258.1 303.38 L258.6 304.20 L259.1 305.03 L259.6 305.87 L260.1 306.73 L260.6 307.59 L261.1 308.46 L261.6 309.34 L262.1 310.22 L262.6 311.11 L263.1 312.00 L263.6 312.89 L264.1 313.79 L264.6 314.68 L265.1 315.58 L265.6 316.47 L266.1 317.36 L266.6 318.25 L267.1 319.14 L267.6 320.02 L268.1 320.90 L268.6 321.77 L269.1 322.64 L269.6 323.50 L270.1 324.35 L270.6 325.20 L271.1 326.03 L271.6 326.87 L272.1 327.69 L272.6 328.50 L273.1 329.31 L273.6 330.11 L274.1 330.89 L274.6 331.67 L275.1 332.44 L275.6 333.20 L276.1 333.95 L276.6 334.69 L277.1 335.42 L277.6 336.14 L278.1 336.86 L278.6 337.56 L279.1 338.25 L279.6 338.93 L280.1 339.60 L280.6 340.26 L281.1 340.91 L281.6 341.55 L282.1 342.18 L282.6 342.80 L283.1 343.41 L283.6 344.01 L284.1 344.61 L284.6 345.19 L285.1 345.76 L285.6 346.33 L286.1 346.88 L286.6 347.43 L287.1 347.96 L287.6 348.49 L288.1 349.01 L288.6 349.52 L289.1 350.02 L289.6 350.51 L290.1 350.99 L290.6 351.47 L291.1 351.94 L291.6 352.39 L292.1 352.85 L292.6 353.29 L293.1 353.72 L293.6 354.15 L294.1 354.57 L294.6 354.99 L295.1 355.39 L295.6 355.79 L296.1 356.18 L296.6 356.57 L297.1 356.95 L297.6 357.32 L298.1 357.68 L298.6 358.04 L299.1 358.39 L299.6 358.74 L300.1 359.08 L300.6 359.41 L301.1 359.74 L301.6 360.06 L302.1 360.37 L302.6 360.68 L303.1 360.99 L303.6 361.29 L304.1 361.58 L304.6 361.87 L305.1 362.15 L305.6 362.43 L306.1 362.70 L306.6 362.97 L307.1 363.23 L307.6 363.49 L308.1 363.74 L308.6 363.99 L309.1 364.24 L309.6 364.48 L310.1 364.71 L310.6 364.94 L311.1 365.17 L311.6 365.39 L312.1 365.61 L312.6 365.82 L313.1 366.03 L313.6 366.24 L314.1 366.44 L314.6 366.64 L315.1 366.83 L315.6 367.02 L316.1 367.21 L316.6 367.39 L317.1 367.57 L317.6 367.75 L318.1 367.92 L318.6 368.09 L319.1 368.26 L319.6 368.42 L320.1 368.58 L320.6 368.74 L321.1 368.89 L321.6 369.04 L322.1 369.19 L322.6 369.33 L323.1 369.47 L323.6 369.61 L324.1 369.75 L324.6 369.88 L325.1 370.01 L325.6 370.14 L326.1 370.27 L326.6 370.39 L327.1 370.51 L327.6 370.63 L328.1 370.74 L328.6 370.85 L329.1 370.96 L329.6 371.07 L330.1 371.18 L330.6 371.28 L331.1 371.38 L331.6 371.48 L332.1 371.58 L332.6 371.67 L333.1 371.77 L333.6 371.86 L334.1 371.95 L334.6 372.03 L335.1 372.12 L335.6 372.20 L336.1 372.28 L336.6 372.36 L337.1 372.44 L337.6 372.52 L338.1 372.59 L338.6 372.67 L339.1 372.74 L339.6 372.81 L340.1 372.88 L340.6 372.95 L341.1 373.01 L341.6 373.08 L342.1 373.14 L342.6 373.20 L343.1 373.26 L343.6 373.32 L344.1 373.38 L344.6 373.44 L345.1 373.49 L345.6 373.55 L346.1 373.60 L346.6 373.65 L347.1 373.70 L347.6 373.75" stroke="#00ff00" stroke-width="1.8" stroke-dasharray="2.4 2.3 5.4 2.3"/>
<path d="M92.2 375.51 L92.7 375.51 L93.2 375.51 L93.7 375.51 L94.2 375.51 L94.7 375.51 L95.2 375.51 L95.7 375.50 L96.2 375.50 L96.7 375.50 L97.2 375.50 L97.7 375.50 L98.2 375.50 L98.7 375.50 L99.2 375.50 L99.7 375.50 L100.2 375.50 L100.7 375.49 L101.2 375.49 L101.7 375.49 L102.2 375.49 L102.7 375.49 L103.2 375.49 L103.7 375.48 L104.2 375.48 L104.7 375.48 L105.2 375.48 L105.7 375.47 L106.2 375.47 L106.7 375.47 L107.2 375.47 L107.7 375.46 L108.2 375.46 L108.7 375.46 L109.2 375.46 L109.7 375.45 L110.2 375.45 L110.7 375.45 L111.2 375.44 L111.7 375.44 L112.2 375.44 L112.7 375.43 L113.2 375.43 L113.7 375.43 L114.2 375.42 L114.7 375.42 L115.2 375.41 L115.7 375.41 L116.2 375.41 L116.7 375.40 L117.2 375.40 L117.7 375.39 L118.2 375.39 L118.7 375.38 L119.2 375.38 L119.7 375.37 L120.2 375.36 L120.7 375.36 L121.2 375.35 L121.7 375.35 L122.2 375.34 L122.7 375.33 L123.2 375.33 L123.7 375.32 L124.2 375.31 L124.7 375.31 L125.2 375.30 L125.7 375.29 L126.2 375.28 L126.7 375.28 L127.2 375.27 L127.7 375.26 L128.2 375.25 L128.7 375.24 L129.2 375.23 L129.7 375.22 L130.2 375.21 L130.7 375.20 L131.2 375.19 L131.7 375.18 L132.2 375.17 L132.7 375.16 L133.2 375.15 L133.7 375.14 L134.2 375.12 L134.7 375.11 L135.2 375.10 L135.7 375.09 L136.2 375.07 L136.7 375.06 L137.2 375.05 L137.7 375.03 L138.2 375.02 L138.7 375.00 L139.2 374.99 L139.7 374.97 L140.2 374.95 L140.7 374.94 L141.2 374.92 L141.7 374.90 L142.2 374.89 L142.7 374.87 L143.2 374.85 L143.7 374.83 L144.2 374.81 L144.7 374.79 L145.2 374.77 L145.7 374.75 L146.2 374.73 L146.7 374.71 L147.2 374.68 L147.7 374.66 L148.2 374.64 L148.7 374.61 L149.2 374.59 L149.7 374.56 L150.2 374.53 L150.7 374.51 L151.2 374.48 L151.7 374.45 L152.2 374.42 L152.7 374.39 L153.2 374.35 L153.7 374.32 L154.2 374.28 L154.7 374.25 L155.2 374.21 L155.7 374.17 L156.2 374.13 L156.7 374.09 L157.2 374.05 L157.7 374.00 L158.2 373.96 L158.7 373.91 L159.2 373.87 L159.7 373.82 L160.2 373.77 L160.7 373.71 L161.2 373.66 L161.7 373.61 L162.2 373.55 L162.7 373.49 L163.2 373.43 L163.7 373.37 L164.2 373.31 L164.7 373.24 L165.2 373.17 L165.7 373.10 L166.2 373.03 L166.7 372.96 L167.2 372.89 L167.7 372.81 L168.2 372.73 L168.7 372.65 L169.2 372.57 L169.7 372.48 L170.2 372.39 L170.7 372.30 L171.2 372.21 L171.7 372.12 L172.2 372.02 L172.7 371.92 L173.2 371.82 L173.7 371.71 L174.2 371.60 L174.7 371.49 L175.2 371.38 L175.7 371.26 L176.2 371.14 L176.7 371.01 L177.2 370.89 L177.7 370.76 L178.2 370.62 L178.7 370.48 L179.2 370.34 L179.7 370.20 L180.2 370.05 L180.7 369.90 L181.2 369.74 L181.7 369.58 L182.2 369.41 L182.7 369.24 L183.2 369.07 L183.7 368.89 L184.2 368.70 L184.7 368.52 L185.2 368.33 L185.7 368.14 L186.2 367.95 L186.7 367.75 L187.2 367.54 L187.7 367.33 L188.2 367.12 L188.7 366.90 L189.2 366.67 L189.7 366.43 L190.2 366.19 L190.7 365.95 L191.2 365.69 L191.7 365.44 L192.2 365.17 L192.7 364.90 L193.2 364.61 L193.7 364.33 L194.2 364.03 L194.7 363.73 L195.2 363.42 L195.7 363.10 L196.2 362.77 L196.7 362.43 L197.2 362.09 L197.7 361.74 L198.2 361.37 L198.7 361.00 L199.2 360.62 L199.7 360.23 L200.2 359.83 L200.7 359.42 L201.2 359.00 L201.7 358.56 L202.2 358.12 L202.7 357.67 L203.2 357.20 L203.7 356.73 L204.2 356.24 L204.7 355.74 L205.2 355.23 L205.7 354.70 L206.2 354.16 L206.7 353.61 L207.2 353.05 L207.7 352.47 L208.2 351.88 L208.7 351.27 L209.2 350.65 L209.7 350.02 L210.2 349.37 L210.7 348.70 L211.2 348.02 L211.7 347.33 L212.2 346.61 L212.7 345.88 L213.2 345.14 L213.7 344.38 L214.2 343.60 L214.7 342.80 L215.2 341.99 L215.7 341.16 L216.2 340.31 L216.7 339.44 L217.2 338.55 L217.7 337.65 L218.2 336.72 L218.7 335.78 L219.2 334.82 L219.7 333.84 L220.2 332.84 L220.7 331.83 L221.2 330.79 L221.7 329.74 L222.2 328.66 L222.7 327.57 L223.2 326.46 L223.7 325.33 L224.2 324.19 L224.7 323.03 L225.2 321.85 L225.7 320.65 L226.2 319.44 L226.7 318.21 L227.2 316.97 L227.7 315.72 L228.2 314.45 L228.7 313.17 L229.2 311.88 L229.7 310.58 L230.2 309.28 L230.7 307.96 L231.2 306.64 L231.7 305.32 L232.2 303.99 L232.7 302.66 L233.2 301.34 L233.7 300.01 L234.2 298.69 L234.7 297.38 L235.2 296.08 L235.7 294.79 L236.2 293.51 L236.7 292.25 L237.2 291.00 L237.7 289.78 L238.2 288.58 L238.7 287.40 L239.2 286.26 L239.7 285.14 L240.2 284.06 L240.7 283.02 L241.2 282.01 L241.7 281.05 L242.2 280.13 L242.7 279.25 L243.2 278.42 L243.7 277.65 L244.2 276.92 L244.7 276.25 L245.2 275.63 L245.7 275.08 L246.2 274.58 L246.7 274.14 L247.2 273.76 L247.7 273.45 L248.2 273.19 L248.7 273.00 L249.2 272.88 L249.7 272.81 L250.2 272.81 L250.7 272.88 L251.2 273.00 L251.7 273.19 L252.2 273.44 L252.7 273.74 L253.2 274.11 L253.7 274.53 L254.2 275.01 L254.7 275.54 L255.2 276.12 L255.7 276.76 L256.2 277.44 L256.7 278.17 L257.2 278.94 L257.7 279.75 L258.2 280.60 L258.7 281.49 L259.2 282.41 L259.7 283.36 L260.2 284.35 L260.7 285.36 L261.2 286.40 L261.7 287.46 L262.2 288.54 L262.7 289.64 L263.2 290.76 L263.7 291.89 L264.2 293.03 L264.7 294.19 L265.2 295.35 L265.7 296.52 L266.2 297.70 L266.7 298.88 L267.2 300.06 L267.7 301.25 L268.2 302.43 L268.7 303.61 L269.2 304.79 L269.7 305.97 L270.2 307.14 L270.7 308.30 L271.2 309.46 L271.7 310.61 L272.2 311.75 L272.7 312.88 L273.2 314.00 L273.7 315.11 L274.2 316.21 L274.7 317.30 L275.2 318.38 L275.7 319.44 L276.2 320.49 L276.7 321.53 L277.2 322.56 L277.7 323.57 L278.2 324.57 L278.7 325.55 L279.2 326.52 L279.7 327.47 L280.2 328.42 L280.7 329.34 L281.2 330.26 L281.7 331.15 L282.2 332.04 L282.7 332.91 L283.2 333.76 L283.7 334.61 L284.2 335.43 L284.7 336.25 L285.2 337.05 L285.7 337.83 L286.2 338.61 L286.7 339.37 L287.2 340.11 L287.7 340.85 L288.2 341.57 L288.7 342.27 L289.2 342.97 L289.7 343.65 L290.2 344.32 L290.7 344.98 L291.2 345.62 L291.7 346.26 L292.2 346.88 L292.7 347.49 L293.2 348.09 L293.7 348.68 L294.2 349.25 L294.7 349.82 L295.2 350.38 L295.7 350.92 L296.2 351.45 L296.7 351.98 L297.2 352.49 L297.7 353.00 L298.2 353.49 L298.7 353.98 L299.2 354.45 L299.7 354.92 L300.2 355.37 L300.7 355.82 L301.2 356.26 L301.7 356.69 L302.2 357.11 L302.7 357.53 L303.2 357.93 L303.7 358.33 L304.2 358.72 L304.7 359.10 L305.2 359.47 L305.7 359.84 L306.2 360.20 L306.7 360.55 L307.2 360.89 L307.7 361.23 L308.2 361.56 L308.7 361.88 L309.2 362.20 L309.7 362.51 L310.2 362.81 L310.7 363.11 L311.2 363.40 L311.7 363.68 L312.2 363.96 L312.7 364.23 L313.2 364.50 L313.7 364.76 L314.2 365.02 L314.7 365.27 L315.2 365.51 L315.7 365.75 L316.2 365.99 L316.7 366.22 L317.2 366.44 L317.7 366.66 L318.2 366.87 L318.7 367.08 L319.2 367.29 L319.7 367.49 L320.2 367.69 L320.7 367.88 L321.2 368.07 L321.7 368.25 L322.2 368.43 L322.7 368.60 L323.2 368.77 L323.7 368.94 L324.2 369.11 L324.7 369.27 L325.2 369.42 L325.7 369.57 L326.2 369.72 L326.7 369.87 L327.2 370.01 L327.7 370.15 L328.2 370.29 L328.7 370.42 L329.2 370.55 L329.7 370.67 L330.2 370.80 L330.7 370.92 L331.2 371.03 L331.7 371.15 L332.2 371.26 L332.7 371.37 L333.2 371.48 L333.7 371.58 L334.2 371.68 L334.7 371.78 L335.2 371.88 L335.7 371.97 L336.2 372.07 L336.7 372.16 L337.2 372.24 L337.7 372.33 L338.2 372.41 L338.7 372.49 L339.2 372.57 L339.7 372.65 L340.2 372.73 L340.7 372.80 L341.2 372.87 L341.7 372.94 L342.2 373.01 L342.7 373.07 L343.2 373.14 L343.7 373.20 L344.2 373.26 L344.7 373.32 L345.2 373.38 L345.7 373.43 L346.2 373.49 L346.7 373.54 L347.2 373.59 L347.7 373.64 L348.2 373.69 L348.7 373.73 L349.2 373.78 L349.7 373.82 L350.2 373.86 L350.7 373.90 L351.2 373.93 L351.7 373.97 L352.2 374.00 L352.7 374.03 L353.2 374.06" stroke="#a06a30" stroke-width="1.8" stroke-dasharray="9.3 1.5 4.7 5.5 4.7 1.6"/>
<path d="M96.1 375.50 L96.6 375.50 L97.1 375.50 L97.6 375.50 L98.1 375.50 L98.6 375.50 L99.1 375.50 L99.6 375.50 L100.1 375.50 L100.6 375.50 L101.1 375.50 L101.6 375.50 L102.1 375.50 L102.6 375.50 L103.1 375.50 L103.6 375.50 L104.1 375.49 L104.6 375.49 L105.1 375.49 L105.6 375.49 L106.1 375.49 L106.6 375.48 L107.1 375.48 L107.6 375.48 L108.1 375.48 L108.6 375.47 L109.1 375.47 L109.6 375.47 L110.1 375.46 L110.6 375.46 L111.1 375.46 L111.6 375.45 L112.1 375.45 L112.6 375.45 L113.1 375.44 L113.6 375.44 L114.1 375.43 L114.6 375.43 L115.1 375.42 L115.6 375.42 L116.1 375.41 L116.6 375.41 L117.1 375.40 L117.6 375.40 L118.1 375.39 L118.6 375.39 L119.1 375.38 L119.6 375.38 L120.1 375.37 L120.6 375.36 L121.1 375.36 L121.6 375.35 L122.1 375.34 L122.6 375.33 L123.1 375.33 L123.6 375.32 L124.1 375.31 L124.6 375.30 L125.1 375.29 L125.6 375.28 L126.1 375.27 L126.6 375.26 L127.1 375.26 L127.6 375.25 L128.1 375.23 L128.6 375.22 L129.1 375.21 L129.6 375.20 L130.1 375.19 L130.6 375.18 L131.1 375.17 L131.6 375.15 L132.1 375.14 L132.6 375.13 L133.1 375.11 L133.6 375.10 L134.1 375.09 L134.6 375.07 L135.1 375.06 L135.6 375.04 L136.1 375.02 L136.6 375.01 L137.1 374.99 L137.6 374.97 L138.1 374.96 L138.6 374.94 L139.1 374.92 L139.6 374.90 L140.1 374.88 L140.6 374.86 L141.1 374.84 L141.6 374.82 L142.1 374.80 L142.6 374.77 L143.1 374.75 L143.6 374.73 L144.1 374.70 L144.6 374.68 L145.1 374.65 L145.6 374.63 L146.1 374.60 L146.6 374.57 L147.1 374.54 L147.6 374.52 L148.1 374.49 L148.6 374.46 L149.1 374.42 L149.6 374.39 L150.1 374.36 L150.6 374.33 L151.1 374.29 L151.6 374.25 L152.1 374.22 L152.6 374.18 L153.1 374.14 L153.6 374.09 L154.1 374.05 L154.6 374.01 L155.1 373.96 L155.6 373.91 L156.1 373.86 L156.6 373.81 L157.1 373.76 L157.6 373.71 L158.1 373.65 L158.6 373.59 L159.1 373.53 L159.6 373.47 L160.1 373.41 L160.6 373.35 L161.1 373.28 L161.6 373.21 L162.1 373.14 L162.6 373.07 L163.1 373.00 L163.6 372.92 L164.1 372.84 L164.6 372.76 L165.1 372.68 L165.6 372.59 L166.1 372.51 L166.6 372.42 L167.1 372.32 L167.6 372.23 L168.1 372.13 L168.6 372.03 L169.1 371.93 L169.6 371.82 L170.1 371.71 L170.6 371.60 L171.1 371.49 L171.6 371.37 L172.1 371.25 L172.6 371.12 L173.1 370.99 L173.6 370.86 L174.1 370.72 L174.6 370.58 L175.1 370.44 L175.6 370.29 L176.1 370.14 L176.6 369.99 L177.1 369.83 L177.6 369.66 L178.1 369.50 L178.6 369.32 L179.1 369.15 L179.6 368.96 L180.1 368.78 L180.6 368.58 L181.1 368.39 L181.6 368.18 L182.1 367.98 L182.6 367.76 L183.1 367.54 L183.6 367.32 L184.1 367.09 L184.6 366.85 L185.1 366.61 L185.6 366.37 L186.1 366.12 L186.6 365.87 L187.1 365.61 L187.6 365.34 L188.1 365.06 L188.6 364.78 L189.1 364.49 L189.6 364.19 L190.1 363.89 L190.6 363.58 L191.1 363.25 L191.6 362.92 L192.1 362.58 L192.6 362.24 L193.1 361.88 L193.6 361.51 L194.1 361.14 L194.6 360.75 L195.1 360.35 L195.6 359.95 L196.1 359.53 L196.6 359.10 L197.1 358.66 L197.6 358.21 L198.1 357.75 L198.6 357.28 L199.1 356.80 L199.6 356.30 L200.1 355.79 L200.6 355.26 L201.1 354.73 L201.6 354.18 L202.1 353.62 L202.6 353.04 L203.1 352.45 L203.6 351.84 L204.1 351.22 L204.6 350.58 L205.1 349.93 L205.6 349.26 L206.1 348.57 L206.6 347.87 L207.1 347.15 L207.6 346.41 L208.1 345.66 L208.6 344.88 L209.1 344.09 L209.6 343.28 L210.1 342.45 L210.6 341.60 L211.1 340.72 L211.6 339.83 L212.1 338.92 L212.6 337.98 L213.1 337.02 L213.6 336.04 L214.1 335.04 L214.6 334.02 L215.1 332.97 L215.6 331.89 L216.1 330.80 L216.6 329.67 L217.1 328.53 L217.6 327.35 L218.1 326.15 L218.6 324.93 L219.1 323.68 L219.6 322.40 L220.1 321.09 L220.6 319.76 L221.1 318.40 L221.6 317.02 L222.1 315.60 L222.6 314.16 L223.1 312.69 L223.6 311.19 L224.1 309.66 L224.6 308.11 L225.1 306.52 L225.6 304.91 L226.1 303.28 L226.6 301.61 L227.1 299.92 L227.6 298.21 L228.1 296.47 L228.6 294.70 L229.1 292.91 L229.6 291.09 L230.1 289.26 L230.6 287.40 L231.1 285.52 L231.6 283.62 L232.1 281.70 L232.6 279.77 L233.1 277.83 L233.6 275.87 L234.1 273.90 L234.6 271.91 L235.1 269.93 L235.6 267.94 L236.1 265.94 L236.6 263.95 L237.1 261.95 L237.6 259.97 L238.1 257.99 L238.6 256.02 L239.1 254.07 L239.6 252.13 L240.1 250.22 L240.6 248.33 L241.1 246.47 L241.6 244.64 L242.1 242.85 L242.6 241.10 L243.1 239.39 L243.6 237.73 L244.1 236.12 L244.6 234.56 L245.1 233.07 L245.6 231.63 L246.1 230.26 L246.6 228.96 L247.1 227.74 L247.6 226.59 L248.1 225.52 L248.6 224.53 L249.1 223.63 L249.6 222.81 L250.1 222.09 L250.6 221.46 L251.1 220.92 L251.6 220.47 L252.1 220.13 L252.6 219.88 L253.1 219.72 L253.6 219.67 L254.1 219.71 L254.6 219.85 L255.1 220.09 L255.6 220.42 L256.1 220.84 L256.6 221.36 L257.1 221.97 L257.6 222.67 L258.1 223.46 L258.6 224.33 L259.1 225.28 L259.6 226.30 L260.1 227.41 L260.6 228.58 L261.1 229.83 L261.6 231.14 L262.1 232.51 L262.6 233.93 L263.1 235.42 L263.6 236.95 L264.1 238.53 L264.6 240.15 L265.1 241.82 L265.6 243.52 L266.1 245.25 L266.6 247.01 L267.1 248.80 L267.6 250.61 L268.1 252.44 L268.6 254.29 L269.1 256.15 L269.6 258.02 L270.1 259.90 L270.6 261.78 L271.1 263.67 L271.6 265.55 L272.1 267.44 L272.6 269.32 L273.1 271.19 L273.6 273.06 L274.1 274.92 L274.6 276.77 L275.1 278.60 L275.6 280.42 L276.1 282.23 L276.6 284.02 L277.1 285.79 L277.6 287.55 L278.1 289.28 L278.6 290.99 L279.1 292.69 L279.6 294.36 L280.1 296.01 L280.6 297.64 L281.1 299.24 L281.6 300.82 L282.1 302.38 L282.6 303.91 L283.1 305.42 L283.6 306.91 L284.1 308.37 L284.6 309.81 L285.1 311.22 L285.6 312.61 L286.1 313.97 L286.6 315.31 L287.1 316.63 L287.6 317.92 L288.1 319.19 L288.6 320.43 L289.1 321.66 L289.6 322.85 L290.1 324.03 L290.6 325.18 L291.1 326.31 L291.6 327.42 L292.1 328.50 L292.6 329.57 L293.1 330.61 L293.6 331.63 L294.1 332.63 L294.6 333.61 L295.1 334.57 L295.6 335.52 L296.1 336.44 L296.6 337.34 L297.1 338.22 L297.6 339.09 L298.1 339.93 L298.6 340.76 L299.1 341.57 L299.6 342.36 L300.1 343.14 L300.6 343.90 L301.1 344.64 L301.6 345.37 L302.1 346.08 L302.6 346.78 L303.1 347.46 L303.6 348.13 L304.1 348.78 L304.6 349.42 L305.1 350.04 L305.6 350.65 L306.1 351.25 L306.6 351.83 L307.1 352.40 L307.6 352.96 L308.1 353.51 L308.6 354.04 L309.1 354.56 L309.6 355.07 L310.1 355.57 L310.6 356.06 L311.1 356.54 L311.6 357.00 L312.1 357.46 L312.6 357.90 L313.1 358.34 L313.6 358.76 L314.1 359.18 L314.6 359.59 L315.1 359.98 L315.6 360.37 L316.1 360.75 L316.6 361.12 L317.1 361.48 L317.6 361.84 L318.1 362.18 L318.6 362.52 L319.1 362.85 L319.6 363.17 L320.1 363.48 L320.6 363.79 L321.1 364.09 L321.6 364.38 L322.1 364.67 L322.6 364.95 L323.1 365.22 L323.6 365.49 L324.1 365.75 L324.6 366.00 L325.1 366.25 L325.6 366.49 L326.1 366.72 L326.6 366.95 L327.1 367.18 L327.6 367.39 L328.1 367.61 L328.6 367.81 L329.1 368.02 L329.6 368.21 L330.1 368.41 L330.6 368.59 L331.1 368.78 L331.6 368.95 L332.1 369.13 L332.6 369.30 L333.1 369.46 L333.6 369.62 L334.1 369.78 L334.6 369.93 L335.1 370.08 L335.6 370.22 L336.1 370.36 L336.6 370.50 L337.1 370.63 L337.6 370.76 L338.1 370.89 L338.6 371.01 L339.1 371.13 L339.6 371.25 L340.1 371.36 L340.6 371.47 L341.1 371.58 L341.6 371.68 L342.1 371.78 L342.6 371.88 L343.1 371.98 L343.6 372.07 L344.1 372.16 L344.6 372.25 L345.1 372.33 L345.6 372.41 L346.1 372.49 L346.6 372.57 L347.1 372.64 L347.6 372.71 L348.1 372.78 L348.6 372.85 L349.1 372.92 L349.6 372.98 L350.1 373.04 L350.6 373.09 L351.1 373.15 L351.6 373.20 L352.1 373.25 L352.6 373.29 L353.1 373.34 L353.6 373.38 L354.1 373.41 L354.6 373.45 L355.1 373.48 L355.6 373.51 L356.1 373.53 L356.6 373.55" stroke="#00ffff" stroke-width="1.8" stroke-dasharray="13.4 4.9"/>
</g>
<g stroke="#000" stroke-width="1.9" fill="none">
<rect x="58.85" y="3.9" width="303.4" height="374.8"/>
<line x1="58.85" y1="191.35" x2="362.25" y2="191.35" stroke-width="1.7"/>
</g>
<path d="M58.85 188.00h3.6M362.25 188.00h-3.6M58.85 179.46h2.2M362.25 179.46h-2.2M58.85 170.91h2.2M362.25 170.91h-2.2M58.85 162.37h2.2M362.25 162.37h-2.2M58.85 153.82h2.2M362.25 153.82h-2.2M58.85 145.28h3.6M362.25 145.28h-3.6M58.85 136.73h2.2M362.25 136.73h-2.2M58.85 128.19h2.2M362.25 128.19h-2.2M58.85 119.64h2.2M362.25 119.64h-2.2M58.85 111.09h2.2M362.25 111.09h-2.2M58.85 102.55h3.6M362.25 102.55h-3.6M58.85 94.00h2.2M362.25 94.00h-2.2M58.85 85.46h2.2M362.25 85.46h-2.2M58.85 76.92h2.2M362.25 76.92h-2.2M58.85 68.37h2.2M362.25 68.37h-2.2M58.85 59.82h3.6M362.25 59.82h-3.6M58.85 51.28h2.2M362.25 51.28h-2.2M58.85 42.74h2.2M362.25 42.74h-2.2M58.85 34.19h2.2M362.25 34.19h-2.2M58.85 25.65h2.2M362.25 25.65h-2.2M58.85 17.10h3.6M362.25 17.10h-3.6M58.85 8.56h2.2M362.25 8.56h-2.2M58.85 375.60h3.6M362.25 375.60h-3.6M58.85 369.33h2.2M362.25 369.33h-2.2M58.85 363.06h2.2M362.25 363.06h-2.2M58.85 356.78h2.2M362.25 356.78h-2.2M58.85 350.51h2.2M362.25 350.51h-2.2M58.85 344.24h3.6M362.25 344.24h-3.6M58.85 337.97h2.2M362.25 337.97h-2.2M58.85 331.70h2.2M362.25 331.70h-2.2M58.85 325.42h2.2M362.25 325.42h-2.2M58.85 319.15h2.2M362.25 319.15h-2.2M58.85 312.88h3.6M362.25 312.88h-3.6M58.85 306.61h2.2M362.25 306.61h-2.2M58.85 300.34h2.2M362.25 300.34h-2.2M58.85 294.06h2.2M362.25 294.06h-2.2M58.85 287.79h2.2M362.25 287.79h-2.2M58.85 281.52h3.6M362.25 281.52h-3.6M58.85 275.25h2.2M362.25 275.25h-2.2M58.85 268.98h2.2M362.25 268.98h-2.2M58.85 262.70h2.2M362.25 262.70h-2.2M58.85 256.43h2.2M362.25 256.43h-2.2M58.85 250.16h3.6M362.25 250.16h-3.6M58.85 243.89h2.2M362.25 243.89h-2.2M58.85 237.62h2.2M362.25 237.62h-2.2M58.85 231.34h2.2M362.25 231.34h-2.2M58.85 225.07h2.2M362.25 225.07h-2.2M58.85 218.80h3.6M362.25 218.80h-3.6M58.85 212.53h2.2M362.25 212.53h-2.2M58.85 206.26h2.2M362.25 206.26h-2.2M58.85 199.98h2.2M362.25 199.98h-2.2M58.85 193.71h2.2M362.25 193.71h-2.2M68.40 191.35v-1.3M68.40 378.7v-1.3M81.43 191.35v-1.3M81.43 378.7v-1.3M89.06 191.35v-1.3M89.06 378.7v-1.3M94.47 191.35v-1.3M94.47 378.7v-1.3M98.67 191.35v-1.3M98.67 378.7v-1.3M102.09 191.35v-1.3M102.09 378.7v-1.3M104.99 191.35v-1.3M104.99 378.7v-1.3M107.50 191.35v-1.3M107.50 378.7v-1.3M109.72 191.35v-1.3M109.72 378.7v-1.3M111.70 191.35v-2.8M111.70 378.7v-2.8M124.73 191.35v-1.3M124.73 378.7v-1.3M132.36 191.35v-1.3M132.36 378.7v-1.3M137.77 191.35v-1.3M137.77 378.7v-1.3M141.97 191.35v-1.3M141.97 378.7v-1.3M145.39 191.35v-1.3M145.39 378.7v-1.3M148.29 191.35v-1.3M148.29 378.7v-1.3M150.80 191.35v-1.3M150.80 378.7v-1.3M153.02 191.35v-1.3M153.02 378.7v-1.3M155.00 191.35v-2.8M155.00 378.7v-2.8M168.03 191.35v-1.3M168.03 378.7v-1.3M175.66 191.35v-1.3M175.66 378.7v-1.3M181.07 191.35v-1.3M181.07 378.7v-1.3M185.27 191.35v-1.3M185.27 378.7v-1.3M188.69 191.35v-1.3M188.69 378.7v-1.3M191.59 191.35v-1.3M191.59 378.7v-1.3M194.10 191.35v-1.3M194.10 378.7v-1.3M196.32 191.35v-1.3M196.32 378.7v-1.3M198.30 191.35v-2.8M198.30 378.7v-2.8M211.33 191.35v-1.3M211.33 378.7v-1.3M218.96 191.35v-1.3M218.96 378.7v-1.3M224.37 191.35v-1.3M224.37 378.7v-1.3M228.57 191.35v-1.3M228.57 378.7v-1.3M231.99 191.35v-1.3M231.99 378.7v-1.3M234.89 191.35v-1.3M234.89 378.7v-1.3M237.40 191.35v-1.3M237.40 378.7v-1.3M239.62 191.35v-1.3M239.62 378.7v-1.3M241.60 191.35v-2.8M241.60 378.7v-2.8M254.63 191.35v-1.3M254.63 378.7v-1.3M262.26 191.35v-1.3M262.26 378.7v-1.3M267.67 191.35v-1.3M267.67 378.7v-1.3M271.87 191.35v-1.3M271.87 378.7v-1.3M275.29 191.35v-1.3M275.29 378.7v-1.3M278.19 191.35v-1.3M278.19 378.7v-1.3M280.70 191.35v-1.3M280.70 378.7v-1.3M282.92 191.35v-1.3M282.92 378.7v-1.3M284.90 191.35v-2.8M284.90 378.7v-2.8M297.93 191.35v-1.3M297.93 378.7v-1.3M305.56 191.35v-1.3M305.56 378.7v-1.3M310.97 191.35v-1.3M310.97 378.7v-1.3M315.17 191.35v-1.3M315.17 378.7v-1.3M318.59 191.35v-1.3M318.59 378.7v-1.3M321.49 191.35v-1.3M321.49 378.7v-1.3M324.00 191.35v-1.3M324.00 378.7v-1.3M326.22 191.35v-1.3M326.22 378.7v-1.3M328.20 191.35v-2.8M328.20 378.7v-2.8M341.23 191.35v-1.3M341.23 378.7v-1.3M348.86 191.35v-1.3M348.86 378.7v-1.3M354.27 191.35v-1.3M354.27 378.7v-1.3M358.47 191.35v-1.3M358.47 378.7v-1.3" stroke="#000" stroke-width="1.3" fill="none"/>
<g font-family="Liberation Sans, sans-serif" fill="#000">
<text x="55.85" y="190.70" font-size="8.9" text-anchor="end">0</text>
<text x="55.85" y="147.97" font-size="8.9" text-anchor="end">500</text>
<text x="55.85" y="105.25" font-size="8.9" text-anchor="end">1000</text>
<text x="55.85" y="62.52" font-size="8.9" text-anchor="end">1500</text>
<text x="55.85" y="19.80" font-size="8.9" text-anchor="end">2000</text>
<text x="55.85" y="378.30" font-size="8.9" text-anchor="end">0</text>
<text x="55.85" y="346.94" font-size="8.9" text-anchor="end">100</text>
<text x="55.85" y="315.58" font-size="8.9" text-anchor="end">200</text>
<text x="55.85" y="284.22" font-size="8.9" text-anchor="end">300</text>
<text x="55.85" y="252.86" font-size="8.9" text-anchor="end">400</text>
<text x="55.85" y="221.50" font-size="8.9" text-anchor="end">500</text>
<text x="111.70" y="201.30" font-size="8.6" text-anchor="middle">0.01</text>
<text x="111.70" y="389.00" font-size="8.6" text-anchor="middle">0.01</text>
<text x="155.00" y="201.30" font-size="8.6" text-anchor="middle">0.10</text>
<text x="155.00" y="389.00" font-size="8.6" text-anchor="middle">0.10</text>
<text x="198.30" y="201.30" font-size="8.6" text-anchor="middle">1</text>
<text x="198.30" y="389.00" font-size="8.6" text-anchor="middle">1</text>
<text x="241.60" y="201.30" font-size="8.6" text-anchor="middle">10</text>
<text x="241.60" y="389.00" font-size="8.6" text-anchor="middle">10</text>
<text x="284.90" y="201.30" font-size="8.6" text-anchor="middle">100</text>
<text x="284.90" y="389.00" font-size="8.6" text-anchor="middle">100</text>
<text x="328.20" y="201.30" font-size="8.6" text-anchor="middle">1000</text>
<text x="328.20" y="389.00" font-size="8.6" text-anchor="middle">1000</text>
</g>
<line x1="214.8" y1="28.2" x2="253.4" y2="28.2" stroke="#000" stroke-width="1.7"/>
<line x1="264.8" y1="45.5" x2="301.4" y2="45.5" stroke="#0000ff" stroke-width="1.8" stroke-dasharray="5.3 2.3" stroke-dashoffset="0.8"/>
<line x1="264.8" y1="66.4" x2="301.4" y2="66.4" stroke="#ff0000" stroke-width="1.8" stroke-dasharray="2.2 2.2"/>
<line x1="264.9" y1="87.4" x2="300.6" y2="87.4" stroke="#00ff00" stroke-width="1.8" stroke-dasharray="6.1 2.2 2.1 2.2"/>
<line x1="264.9" y1="108" x2="303.9" y2="108" stroke="#a06a30" stroke-width="1.8" stroke-dasharray="10.2 1.4 5.3 6.7 5.3 1.4"/>
<line x1="264.9" y1="128.3" x2="302" y2="128.3" stroke="#00ffff" stroke-width="1.8" stroke-dasharray="14.8 5.4"/>
<g font-family="Liberation Sans, sans-serif" font-size="12.6" fill="#000">
<text x="260.3" y="32.4" textLength="47" lengthAdjust="spacingAndGlyphs">MG_SP,</text>
<text x="310.0" y="32.4">f</text>
<text x="313.8" y="32.4" textLength="9.6" lengthAdjust="spacingAndGlyphs">=</text>
<text x="322.4" y="32.4" textLength="12.8" lengthAdjust="spacingAndGlyphs">10</text>
<text x="337.6" y="32.5" textLength="13.6" lengthAdjust="spacingAndGlyphs" font-size="13.4">%</text>
<text x="310.0" y="49.7">f</text>
<text x="313.8" y="49.7" textLength="9.6" lengthAdjust="spacingAndGlyphs">=</text>
<text x="320.8" y="49.7" textLength="6.4" lengthAdjust="spacingAndGlyphs">5</text>
<text x="330.7" y="49.800000000000004" textLength="13.6" lengthAdjust="spacingAndGlyphs" font-size="13.4">%</text>
<text x="310.0" y="70.60000000000001">f</text>
<text x="313.8" y="70.60000000000001" textLength="9.6" lengthAdjust="spacingAndGlyphs">=</text>
<text x="322.4" y="70.60000000000001" textLength="12.8" lengthAdjust="spacingAndGlyphs">10</text>
<text x="337.6" y="70.7" textLength="13.6" lengthAdjust="spacingAndGlyphs" font-size="13.4">%</text>
<text x="310.0" y="91.60000000000001">f</text>
<text x="313.8" y="91.60000000000001" textLength="9.6" lengthAdjust="spacingAndGlyphs">=</text>
<text x="322.4" y="91.60000000000001" textLength="12.8" lengthAdjust="spacingAndGlyphs">20</text>
<text x="337.6" y="91.7" textLength="13.6" lengthAdjust="spacingAndGlyphs" font-size="13.4">%</text>
<text x="310.0" y="112.2">f</text>
<text x="313.8" y="112.2" textLength="9.6" lengthAdjust="spacingAndGlyphs">=</text>
<text x="322.4" y="112.2" textLength="12.8" lengthAdjust="spacingAndGlyphs">30</text>
<text x="337.6" y="112.3" textLength="13.6" lengthAdjust="spacingAndGlyphs" font-size="13.4">%</text>
<text x="310.0" y="132.5">f</text>
<text x="313.8" y="132.5" textLength="9.6" lengthAdjust="spacingAndGlyphs">=</text>
<text x="322.4" y="132.5" textLength="12.8" lengthAdjust="spacingAndGlyphs">40</text>
<text x="337.6" y="132.6" textLength="13.6" lengthAdjust="spacingAndGlyphs" font-size="13.4">%</text>
</g>
<g font-family="Liberation Serif, serif" fill="#000">
<text x="176" y="403.1" font-size="20" font-style="italic">ν</text>
<text x="192.6" y="404.6" font-size="24">(</text>
<text x="200" y="403.1" font-size="18.8">H</text>
<text x="213.4" y="403.1" font-size="18.8">z</text>
<text x="222" y="404.6" font-size="24">)</text>
</g>
<path d="M20.30 100.40 C20.30 106.00 23.00 110.70 27.60 110.70 C32.00 110.70 34.30 107.20 34.20 104.00 C34.10 102.50 33.60 101.20 32.80 100.50 L32.00 101.30 C32.50 102.30 32.60 103.50 32.30 104.60 C31.70 107.00 30.00 108.50 27.40 108.60 C24.00 108.60 21.60 105.50 21.50 100.40 Z" fill="#000"/><path d="M26.80 102.40V109.30" stroke="#000" stroke-width="1.1" fill="none"/>
<path d="M11.49 95.97 L21.67 99.03 L21.93 98.37 L12.31 93.83Z" fill="#000" stroke="#000" stroke-width="0.4" stroke-linejoin="round"/>
<path d="M20.50 291.10 C20.50 296.70 23.20 301.40 27.80 301.40 C32.20 301.40 34.50 297.90 34.40 294.70 C34.30 293.20 33.80 291.90 33.00 291.20 L32.20 292.00 C32.70 293.00 32.80 294.20 32.50 295.30 C31.90 297.70 30.20 299.20 27.60 299.30 C24.20 299.30 21.80 296.20 21.70 291.10 Z" fill="#000"/><path d="M27.00 293.10V300.00" stroke="#000" stroke-width="1.1" fill="none"/>
<path d="M11.64 280.39 L21.39 282.73 L21.61 282.07 L12.36 278.21Z" fill="#000" stroke="#000" stroke-width="0.4" stroke-linejoin="round"/>
<path d="M11.64 287.19 L21.39 289.53 L21.61 288.87 L12.36 285.01Z" fill="#000" stroke="#000" stroke-width="0.4" stroke-linejoin="round"/>
<path d="M14.7 290.4C16.6 291.2,16.6 293.2,15.3 294.6C14 296,14 298.3,16 299.7" fill="none" stroke="#000" stroke-width="1.15" stroke-linecap="round"/>
</svg></body></html>
